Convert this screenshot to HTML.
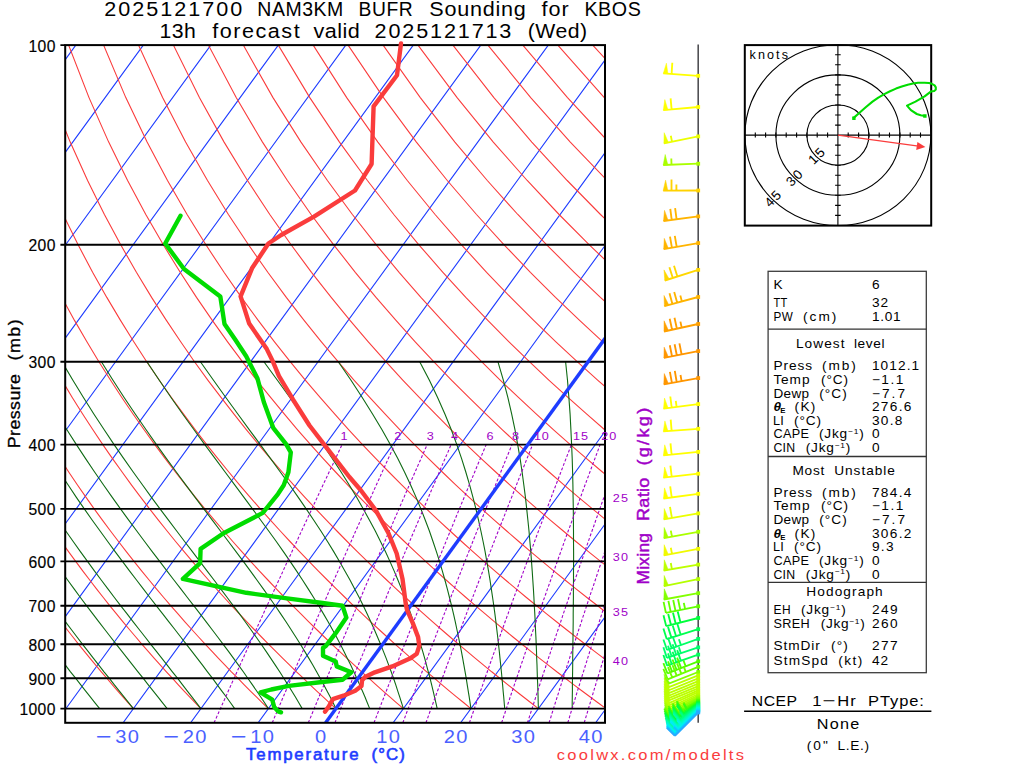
<!DOCTYPE html>
<html lang="en"><head><meta charset="utf-8"><title>2025121700 NAM3KM BUFR Sounding for KBOS</title>
<style>html,body{margin:0;padding:0;background:#fff}body{width:1024px;height:768px;overflow:hidden}svg{display:block}</style>
</head><body>
<svg width="1024" height="768" viewBox="0 0 1024 768">
<defs><clipPath id="fr"><rect x="65.2" y="45.1" width="539.8" height="677.7"/></clipPath></defs>
<rect width="1024" height="768" fill="#fff"/>
<g clip-path="url(#fr)">
<path d="M-686.9 722.8 L-194.2 45.1 M-619.4 722.8 L-126.7 45.1 M-551.9 722.8 L-59.2 45.1 M-484.4 722.8 L8.3 45.1 M-416.9 722.8 L75.8 45.1 M-349.4 722.8 L143.3 45.1 M-281.9 722.8 L210.8 45.1 M-214.4 722.8 L278.3 45.1 M-146.9 722.8 L345.8 45.1 M-79.4 722.8 L413.3 45.1 M-11.9 722.8 L480.8 45.1 M55.6 722.8 L548.3 45.1 M123.1 722.8 L615.8 45.1 M190.6 722.8 L683.3 45.1 M258.1 722.8 L750.8 45.1 M393.1 722.8 L885.8 45.1 M460.6 722.8 L953.3 45.1 M528.1 722.8 L1020.8 45.1 M595.6 722.8 L1088.3 45.1" stroke="#1e3cff" stroke-width="1.1" fill="none"/>
<path d="M133.4 708.6 L128.2 702.8 L122.9 696.8 L117.6 690.8 L112.2 684.6 L106.8 678.2 L101.3 671.8 L95.7 665.1 L90.1 658.4 L84.4 651.4 L78.7 644.3 L72.9 637 L67 629.5 L61.1 621.8 L55.1 613.9 L49 605.8 L42.8 597.5 L36.6 588.9 L30.2 580 L23.8 570.9 L17.3 561.4 L10.8 551.6 L4.1 541.5 L-2.7 531 L-9.5 520.2 L-16.5 508.9 L-23.6 497.1 L-30.8 484.8 L-38.1 472 L-45.5 458.6 L-53 444.6 L-60.6 429.8 L-68.4 414.2 L-76.3 397.7 L-84.3 380.3 L-92.5 361.7 L-100.7 341.8 L-109.1 320.4 L-117.6 297.4 L-126.2 272.3 L-134.9 244.8 L-143.6 214.5 L-152.2 180.5 L-160.6 142.1 L-168.7 97.6 L-175.9 45.1 M200.9 708.6 L195.3 702.8 L189.6 696.8 L183.9 690.8 L178.1 684.6 L172.3 678.2 L166.4 671.8 L160.4 665.1 L154.3 658.4 L148.2 651.4 L142 644.3 L135.8 637 L129.4 629.5 L123 621.8 L116.5 613.9 L109.9 605.8 L103.3 597.5 L96.5 588.9 L89.7 580 L82.7 570.9 L75.7 561.4 L68.5 551.6 L61.3 541.5 L53.9 531 L46.4 520.2 L38.8 508.9 L31.1 497.1 L23.3 484.8 L15.3 472 L7.2 458.6 L-1.1 444.6 L-9.5 429.8 L-18 414.2 L-26.7 397.7 L-35.6 380.3 L-44.6 361.7 L-53.8 341.8 L-63.2 320.4 L-72.8 297.4 L-82.5 272.3 L-92.3 244.8 L-102.2 214.5 L-112.2 180.5 L-122.2 142.1 L-131.9 97.6 L-141 45.1 M268.4 708.6 L262.4 702.8 L256.4 696.8 L250.2 690.8 L244 684.6 L237.8 678.2 L231.4 671.8 L225 665.1 L218.5 658.4 L212 651.4 L205.4 644.3 L198.6 637 L191.8 629.5 L184.9 621.8 L178 613.9 L170.9 605.8 L163.7 597.5 L156.4 588.9 L149.1 580 L141.6 570.9 L134 561.4 L126.3 551.6 L118.5 541.5 L110.5 531 L102.4 520.2 L94.2 508.9 L85.9 497.1 L77.3 484.8 L68.7 472 L59.9 458.6 L50.9 444.6 L41.7 429.8 L32.4 414.2 L22.9 397.7 L13.1 380.3 L3.2 361.7 L-6.9 341.8 L-17.3 320.4 L-27.9 297.4 L-38.7 272.3 L-49.7 244.8 L-60.9 214.5 L-72.3 180.5 L-83.7 142.1 L-95 97.6 L-106.1 45.1 M335.9 708.6 L329.5 702.8 L323.1 696.8 L316.5 690.8 L309.9 684.6 L303.3 678.2 L296.5 671.8 L289.7 665.1 L282.8 658.4 L275.8 651.4 L268.7 644.3 L261.5 637 L254.2 629.5 L246.9 621.8 L239.4 613.9 L231.8 605.8 L224.2 597.5 L216.4 588.9 L208.5 580 L200.5 570.9 L192.3 561.4 L184.1 551.6 L175.6 541.5 L167.1 531 L158.4 520.2 L149.6 508.9 L140.6 497.1 L131.4 484.8 L122.1 472 L112.5 458.6 L102.8 444.6 L92.9 429.8 L82.8 414.2 L72.4 397.7 L61.9 380.3 L51 361.7 L40 341.8 L28.6 320.4 L17 297.4 L5.1 272.3 L-7.1 244.8 L-19.6 214.5 L-32.3 180.5 L-45.2 142.1 L-58.2 97.6 L-71.1 45.1 M403.4 708.6 L396.6 702.8 L389.8 696.8 L382.9 690.8 L375.9 684.6 L368.8 678.2 L361.6 671.8 L354.3 665.1 L347 658.4 L339.5 651.4 L332 644.3 L324.4 637 L316.6 629.5 L308.8 621.8 L300.9 613.9 L292.8 605.8 L284.6 597.5 L276.3 588.9 L267.9 580 L259.3 570.9 L250.6 561.4 L241.8 551.6 L232.8 541.5 L223.7 531 L214.4 520.2 L204.9 508.9 L195.3 497.1 L185.5 484.8 L175.4 472 L165.2 458.6 L154.8 444.6 L144.1 429.8 L133.2 414.2 L122 397.7 L110.6 380.3 L98.9 361.7 L86.9 341.8 L74.5 320.4 L61.9 297.4 L48.9 272.3 L35.5 244.8 L21.8 214.5 L7.7 180.5 L-6.7 142.1 L-21.4 97.6 L-36.2 45.1 M470.9 708.6 L463.8 702.8 L456.5 696.8 L449.2 690.8 L441.8 684.6 L434.3 678.2 L426.7 671.8 L419 665.1 L411.2 658.4 L403.3 651.4 L395.3 644.3 L387.2 637 L379 629.5 L370.7 621.8 L362.3 613.9 L353.7 605.8 L345.1 597.5 L336.3 588.9 L327.3 580 L318.2 570.9 L309 561.4 L299.6 551.6 L290 541.5 L280.3 531 L270.4 520.2 L260.3 508.9 L250 497.1 L239.5 484.8 L228.8 472 L217.9 458.6 L206.7 444.6 L195.3 429.8 L183.6 414.2 L171.6 397.7 L159.3 380.3 L146.7 361.7 L133.8 341.8 L120.5 320.4 L106.8 297.4 L92.6 272.3 L78.1 244.8 L63.1 214.5 L47.6 180.5 L31.7 142.1 L15.4 97.6 L-1.3 45.1 M538.4 708.6 L530.9 702.8 L523.2 696.8 L515.5 690.8 L507.7 684.6 L499.8 678.2 L491.7 671.8 L483.6 665.1 L475.4 658.4 L467.1 651.4 L458.7 644.3 L450.1 637 L441.4 629.5 L432.7 621.8 L423.7 613.9 L414.7 605.8 L405.5 597.5 L396.2 588.9 L386.7 580 L377.1 570.9 L367.3 561.4 L357.3 551.6 L347.2 541.5 L336.9 531 L326.4 520.2 L315.7 508.9 L304.7 497.1 L293.6 484.8 L282.2 472 L270.5 458.6 L258.6 444.6 L246.5 429.8 L234 414.2 L221.2 397.7 L208 380.3 L194.5 361.7 L180.7 341.8 L166.4 320.4 L151.6 297.4 L136.4 272.3 L120.7 244.8 L104.4 214.5 L87.6 180.5 L70.2 142.1 L52.2 97.6 L33.7 45.1 M605.9 708.6 L598 702.8 L589.9 696.8 L581.8 690.8 L573.6 684.6 L565.3 678.2 L556.8 671.8 L548.3 665.1 L539.6 658.4 L530.9 651.4 L522 644.3 L513 637 L503.9 629.5 L494.6 621.8 L485.2 613.9 L475.7 605.8 L466 597.5 L456.1 588.9 L446.1 580 L436 570.9 L425.6 561.4 L415.1 551.6 L404.4 541.5 L393.5 531 L382.4 520.2 L371 508.9 L359.4 497.1 L347.6 484.8 L335.6 472 L323.2 458.6 L310.6 444.6 L297.6 429.8 L284.4 414.2 L270.8 397.7 L256.8 380.3 L242.4 361.7 L227.6 341.8 L212.3 320.4 L196.5 297.4 L180.2 272.3 L163.3 244.8 L145.8 214.5 L127.6 180.5 L108.7 142.1 L89 97.6 L68.6 45.1 M673.4 708.6 L665.1 702.8 L656.7 696.8 L648.1 690.8 L639.5 684.6 L630.7 678.2 L621.9 671.8 L612.9 665.1 L603.8 658.4 L594.6 651.4 L585.3 644.3 L575.9 637 L566.3 629.5 L556.5 621.8 L546.6 613.9 L536.6 605.8 L526.4 597.5 L516.1 588.9 L505.5 580 L494.8 570.9 L483.9 561.4 L472.9 551.6 L461.6 541.5 L450.1 531 L438.3 520.2 L426.4 508.9 L414.2 497.1 L401.7 484.8 L388.9 472 L375.9 458.6 L362.5 444.6 L348.8 429.8 L334.8 414.2 L320.3 397.7 L305.5 380.3 L290.2 361.7 L274.5 341.8 L258.2 320.4 L241.4 297.4 L224 272.3 L205.9 244.8 L187.1 214.5 L167.5 180.5 L147.1 142.1 L125.8 97.6 L103.6 45.1 M740.9 708.6 L732.2 702.8 L723.4 696.8 L714.4 690.8 L705.4 684.6 L696.2 678.2 L687 671.8 L677.6 665.1 L668.1 658.4 L658.4 651.4 L648.6 644.3 L638.7 637 L628.7 629.5 L618.5 621.8 L608.1 613.9 L597.6 605.8 L586.9 597.5 L576 588.9 L565 580 L553.7 570.9 L542.3 561.4 L530.6 551.6 L518.8 541.5 L506.7 531 L494.3 520.2 L481.7 508.9 L468.9 497.1 L455.7 484.8 L442.3 472 L428.6 458.6 L414.5 444.6 L400 429.8 L385.2 414.2 L369.9 397.7 L354.2 380.3 L338.1 361.7 L321.4 341.8 L304.1 320.4 L286.3 297.4 L267.8 272.3 L248.5 244.8 L228.4 214.5 L207.5 180.5 L185.6 142.1 L162.6 97.6 L138.5 45.1 M808.4 708.6 L799.3 702.8 L790.1 696.8 L780.8 690.8 L771.3 684.6 L761.7 678.2 L752 671.8 L742.2 665.1 L732.3 658.4 L722.2 651.4 L712 644.3 L701.6 637 L691.1 629.5 L680.4 621.8 L669.5 613.9 L658.5 605.8 L647.3 597.5 L635.9 588.9 L624.4 580 L612.6 570.9 L600.6 561.4 L588.4 551.6 L575.9 541.5 L563.3 531 L550.3 520.2 L537.1 508.9 L523.6 497.1 L509.8 484.8 L495.7 472 L481.2 458.6 L466.4 444.6 L451.2 429.8 L435.6 414.2 L419.5 397.7 L403 380.3 L385.9 361.7 L368.3 341.8 L350 320.4 L331.2 297.4 L311.5 272.3 L291.1 244.8 L269.8 214.5 L247.5 180.5 L224.1 142.1 L199.4 97.6 L173.4 45.1 M875.9 708.6 L866.4 702.8 L856.8 696.8 L847.1 690.8 L837.2 684.6 L827.2 678.2 L817.1 671.8 L806.9 665.1 L796.5 658.4 L786 651.4 L775.3 644.3 L764.5 637 L753.5 629.5 L742.3 621.8 L731 613.9 L719.5 605.8 L707.8 597.5 L695.9 588.9 L683.8 580 L671.5 570.9 L658.9 561.4 L646.1 551.6 L633.1 541.5 L619.9 531 L606.3 520.2 L592.5 508.9 L578.3 497.1 L563.9 484.8 L549.1 472 L533.9 458.6 L518.3 444.6 L502.4 429.8 L486 414.2 L469.1 397.7 L451.7 380.3 L433.7 361.7 L415.2 341.8 L396 320.4 L376 297.4 L355.3 272.3 L333.7 244.8 L311.1 214.5 L287.4 180.5 L262.5 142.1 L236.2 97.6 L208.4 45.1 M943.4 708.6 L933.5 702.8 L923.5 696.8 L913.4 690.8 L903.1 684.6 L892.7 678.2 L882.2 671.8 L871.5 665.1 L860.7 658.4 L849.7 651.4 L838.6 644.3 L827.3 637 L815.9 629.5 L804.2 621.8 L792.4 613.9 L780.4 605.8 L768.2 597.5 L755.8 588.9 L743.2 580 L730.3 570.9 L717.2 561.4 L703.9 551.6 L690.3 541.5 L676.4 531 L662.3 520.2 L647.8 508.9 L633 497.1 L617.9 484.8 L602.4 472 L586.6 458.6 L570.3 444.6 L553.6 429.8 L536.4 414.2 L518.7 397.7 L500.4 380.3 L481.6 361.7 L462.1 341.8 L441.9 320.4 L420.9 297.4 L399.1 272.3 L376.3 244.8 L352.4 214.5 L327.4 180.5 L301 142.1 L273 97.6 L243.3 45.1 M1010.9 708.6 L1000.6 702.8 L990.2 696.8 L979.7 690.8 L969 684.6 L958.2 678.2 L947.3 671.8 L936.2 665.1 L924.9 658.4 L913.5 651.4 L901.9 644.3 L890.2 637 L878.3 629.5 L866.2 621.8 L853.9 613.9 L841.4 605.8 L828.7 597.5 L815.7 588.9 L802.6 580 L789.2 570.9 L775.6 561.4 L761.7 551.6 L747.5 541.5 L733 531 L718.3 520.2 L703.2 508.9 L687.8 497.1 L672 484.8 L655.8 472 L639.2 458.6 L622.2 444.6 L604.7 429.8 L586.8 414.2 L568.2 397.7 L549.1 380.3 L529.4 361.7 L509 341.8 L487.8 320.4 L465.8 297.4 L442.9 272.3 L418.9 244.8 L393.8 214.5 L367.4 180.5 L339.5 142.1 L309.8 97.6 L278.3 45.1 M1078.4 708.6 L1067.8 702.8 L1057 696.8 L1046 690.8 L1034.9 684.6 L1023.7 678.2 L1012.4 671.8 L1000.8 665.1 L989.1 658.4 L977.3 651.4 L965.3 644.3 L953.1 637 L940.7 629.5 L928.1 621.8 L915.3 613.9 L902.3 605.8 L889.1 597.5 L875.7 588.9 L862 580 L848.1 570.9 L833.9 561.4 L819.4 551.6 L804.7 541.5 L789.6 531 L774.3 520.2 L758.5 508.9 L742.5 497.1 L726 484.8 L709.2 472 L691.9 458.6 L674.2 444.6 L655.9 429.8 L637.2 414.2 L617.8 397.7 L597.9 380.3 L577.2 361.7 L555.9 341.8 L533.7 320.4 L510.7 297.4 L486.6 272.3 L461.5 244.8 L435.1 214.5 L407.3 180.5 L377.9 142.1 L346.7 97.6 L313.2 45.1 M1145.9 708.6 L1134.9 702.8 L1123.7 696.8 L1112.3 690.8 L1100.9 684.6 L1089.2 678.2 L1077.4 671.8 L1065.5 665.1 L1053.4 658.4 L1041.1 651.4 L1028.6 644.3 L1015.9 637 L1003.1 629.5 L990 621.8 L976.8 613.9 L963.3 605.8 L949.6 597.5 L935.6 588.9 L921.4 580 L907 570.9 L892.2 561.4 L877.2 551.6 L861.9 541.5 L846.2 531 L830.2 520.2 L813.9 508.9 L797.2 497.1 L780.1 484.8 L762.6 472 L744.6 458.6 L726.1 444.6 L707.1 429.8 L687.6 414.2 L667.4 397.7 L646.6 380.3 L625.1 361.7 L602.8 341.8 L579.6 320.4 L555.5 297.4 L530.4 272.3 L504.1 244.8 L476.5 214.5 L447.3 180.5 L416.4 142.1 L383.5 97.6 L348.1 45.1 M1213.4 708.6 L1202 702.8 L1190.4 696.8 L1178.7 690.8 L1166.8 684.6 L1154.7 678.2 L1142.5 671.8 L1130.1 665.1 L1117.6 658.4 L1104.8 651.4 L1091.9 644.3 L1078.8 637 L1065.5 629.5 L1052 621.8 L1038.2 613.9 L1024.2 605.8 L1010 597.5 L995.6 588.9 L980.8 580 L965.8 570.9 L950.5 561.4 L935 551.6 L919.1 541.5 L902.8 531 L886.2 520.2 L869.3 508.9 L851.9 497.1 L834.1 484.8 L815.9 472 L797.2 458.6 L778 444.6 L758.3 429.8 L737.9 414.2 L717 397.7 L695.3 380.3 L672.9 361.7 L649.7 341.8 L625.6 320.4 L600.4 297.4 L574.2 272.3 L546.7 244.8 L517.8 214.5 L487.3 180.5 L454.9 142.1 L420.3 97.6 L383.1 45.1 M1280.9 708.6 L1269.1 702.8 L1257.1 696.8 L1245 690.8 L1232.7 684.6 L1220.2 678.2 L1207.6 671.8 L1194.8 665.1 L1181.8 658.4 L1168.6 651.4 L1155.3 644.3 L1141.7 637 L1127.9 629.5 L1113.9 621.8 L1099.7 613.9 L1085.2 605.8 L1070.5 597.5 L1055.5 588.9 L1040.2 580 L1024.7 570.9 L1008.9 561.4 L992.7 551.6 L976.2 541.5 L959.4 531 L942.2 520.2 L924.6 508.9 L906.6 497.1 L888.2 484.8 L869.3 472 L849.9 458.6 L830 444.6 L809.5 429.8 L788.3 414.2 L766.6 397.7 L744 380.3 L720.7 361.7 L696.6 341.8 L671.5 320.4 L645.3 297.4 L618 272.3 L589.3 244.8 L559.1 214.5 L527.2 180.5 L493.3 142.1 L457.1 97.6 L418 45.1 M1348.4 708.6 L1336.2 702.8 L1323.8 696.8 L1311.3 690.8 L1298.6 684.6 L1285.7 678.2 L1272.7 671.8 L1259.4 665.1 L1246 658.4 L1232.4 651.4 L1218.6 644.3 L1204.6 637 L1190.3 629.5 L1175.8 621.8 L1161.1 613.9 L1146.1 605.8 L1130.9 597.5 L1115.4 588.9 L1099.7 580 L1083.6 570.9 L1067.2 561.4 L1050.5 551.6 L1033.4 541.5 L1016 531 L998.2 520.2 L980 508.9 L961.4 497.1 L942.3 484.8 L922.7 472 L902.6 458.6 L881.9 444.6 L860.6 429.8 L838.7 414.2 L816.1 397.7 L792.8 380.3 L768.6 361.7 L743.5 341.8 L717.4 320.4 L690.2 297.4 L661.7 272.3 L631.9 244.8 L600.5 214.5 L567.2 180.5 L531.8 142.1 L493.9 97.6 L452.9 45.1 M1415.9 708.6 L1403.3 702.8 L1390.5 696.8 L1377.6 690.8 L1364.5 684.6 L1351.2 678.2 L1337.7 671.8 L1324.1 665.1 L1310.2 658.4 L1296.2 651.4 L1281.9 644.3 L1267.4 637 L1252.7 629.5 L1237.8 621.8 L1222.6 613.9 L1207.1 605.8 L1191.4 597.5 L1175.4 588.9 L1159.1 580 L1142.5 570.9 L1125.5 561.4 L1108.2 551.6 L1090.6 541.5 L1072.6 531 L1054.2 520.2 L1035.4 508.9 L1016.1 497.1 L996.3 484.8 L976 472 L955.2 458.6 L933.8 444.6 L911.8 429.8 L889.1 414.2 L865.7 397.7 L841.5 380.3 L816.4 361.7 L790.4 341.8 L763.3 320.4 L735.1 297.4 L705.5 272.3 L674.5 244.8 L641.8 214.5 L607.2 180.5 L570.3 142.1 L530.7 97.6 L487.9 45.1 M1483.4 708.6 L1470.4 702.8 L1457.3 696.8 L1443.9 690.8 L1430.4 684.6 L1416.7 678.2 L1402.8 671.8 L1388.7 665.1 L1374.4 658.4 L1359.9 651.4 L1345.2 644.3 L1330.3 637 L1315.1 629.5 L1299.7 621.8 L1284 613.9 L1268.1 605.8 L1251.8 597.5 L1235.3 588.9 L1218.5 580 L1201.3 570.9 L1183.8 561.4 L1166 551.6 L1147.8 541.5 L1129.2 531 L1110.2 520.2 L1090.7 508.9 L1070.8 497.1 L1050.4 484.8 L1029.4 472 L1007.9 458.6 L985.8 444.6 L963 429.8 L939.5 414.2 L915.3 397.7 L890.2 380.3 L864.3 361.7 L837.3 341.8 L809.2 320.4 L779.9 297.4 L749.3 272.3 L717.1 244.8 L683.1 214.5 L647.1 180.5 L608.7 142.1 L567.5 97.6 L522.8 45.1 M1550.9 708.6 L1537.5 702.8 L1524 696.8 L1510.2 690.8 L1496.3 684.6 L1482.2 678.2 L1467.9 671.8 L1453.4 665.1 L1438.7 658.4 L1423.7 651.4 L1408.6 644.3 L1393.2 637 L1377.5 629.5 L1361.6 621.8 L1345.5 613.9 L1329 605.8 L1312.3 597.5 L1295.2 588.9 L1277.9 580 L1260.2 570.9 L1242.2 561.4 L1223.8 551.6 L1205 541.5 L1185.8 531 L1166.2 520.2 L1146.1 508.9 L1125.5 497.1 L1104.4 484.8 L1082.8 472 L1060.6 458.6 L1037.7 444.6 L1014.2 429.8 L989.9 414.2 L964.9 397.7 L939 380.3 L912.1 361.7 L884.2 341.8 L855.1 320.4 L824.8 297.4 L793.1 272.3 L759.7 244.8 L724.5 214.5 L687.1 180.5 L647.2 142.1 L604.3 97.6 L557.8 45.1 M1618.4 708.6 L1604.6 702.8 L1590.7 696.8 L1576.5 690.8 L1562.2 684.6 L1547.7 678.2 L1533 671.8 L1518 665.1 L1502.9 658.4 L1487.5 651.4 L1471.9 644.3 L1456 637 L1439.9 629.5 L1423.5 621.8 L1406.9 613.9 L1390 605.8 L1372.7 597.5 L1355.2 588.9 L1337.3 580 L1319.1 570.9 L1300.5 561.4 L1281.5 551.6 L1262.2 541.5 L1242.4 531 L1222.2 520.2 L1201.4 508.9 L1180.2 497.1 L1158.5 484.8 L1136.2 472 L1113.2 458.6 L1089.7 444.6 L1065.4 429.8 L1040.3 414.2 L1014.5 397.7 L987.7 380.3 L959.9 361.7 L931.1 341.8 L901.1 320.4 L869.7 297.4 L836.8 272.3 L802.3 244.8 L765.8 214.5 L727.1 180.5 L685.7 142.1 L641.1 97.6 L592.7 45.1 M1685.9 708.6 L1671.8 702.8 L1657.4 696.8 L1642.9 690.8 L1628.1 684.6 L1613.2 678.2 L1598 671.8 L1582.7 665.1 L1567.1 658.4 L1551.3 651.4 L1535.2 644.3 L1518.9 637 L1502.3 629.5 L1485.5 621.8 L1468.3 613.9 L1450.9 605.8 L1433.2 597.5 L1415.1 588.9 L1396.7 580 L1378 570.9 L1358.8 561.4 L1339.3 551.6 L1319.4 541.5 L1299 531 L1278.1 520.2 L1256.8 508.9 L1235 497.1 L1212.5 484.8 L1189.5 472 L1165.9 458.6 L1141.6 444.6 L1116.6 429.8 L1090.7 414.2 L1064 397.7 L1036.4 380.3 L1007.8 361.7 L978 341.8 L947 320.4 L914.6 297.4 L880.6 272.3 L844.9 244.8 L807.1 214.5 L767 180.5 L724.1 142.1 L677.9 97.6 L627.6 45.1" stroke="#fa3c3c" stroke-width="1.1" fill="none"/>
<path d="M99.7 708.6 L95 702.8 L90.3 696.8 L85.5 690.8 L80.6 684.6 L75.6 678.2 L70.5 671.8 L65.4 665.1 L60.2 658.4 L54.9 651.4 L49.6 644.3 L44.1 637 L38.6 629.5 L33 621.8 L27.3 613.9 L21.5 605.8 L15.7 597.5 L9.8 588.9 L3.7 580 L-2.4 570.9 L-8.6 561.4 L-14.8 551.6 L-21.2 541.5 L-27.7 531 L-34.2 520.2 L-40.9 508.9 L-47.7 497.1 L-54.5 484.8 L-61.5 472 L-68.6 458.6 L-75.7 444.6 L-83 429.8 L-90.4 414.2 L-97.9 397.7 L-105.5 380.3 L-113.3 361.7 M133.4 708.6 L128.8 702.8 L124 696.8 L119.2 690.8 L114.2 684.6 L109.2 678.2 L104 671.8 L98.8 665.1 L93.5 658.4 L88.1 651.4 L82.6 644.3 L77 637 L71.3 629.5 L65.5 621.8 L59.7 613.9 L53.7 605.8 L47.6 597.5 L41.5 588.9 L35.2 580 L28.9 570.9 L22.4 561.4 L15.8 551.6 L9.2 541.5 L2.4 531 L-4.4 520.2 L-11.4 508.9 L-18.5 497.1 L-25.7 484.8 L-33 472 L-40.5 458.6 L-48 444.6 L-55.7 429.8 L-63.5 414.2 L-71.5 397.7 L-79.6 380.3 L-87.8 361.7 M167.2 708.6 L162.6 702.8 L157.9 696.8 L153.1 690.8 L148.1 684.6 L143.1 678.2 L138 671.8 L132.7 665.1 L127.4 658.4 L121.9 651.4 L116.3 644.3 L110.6 637 L104.8 629.5 L98.9 621.8 L92.8 613.9 L86.7 605.8 L80.4 597.5 L74.1 588.9 L67.6 580 L61 570.9 L54.3 561.4 L47.5 551.6 L40.5 541.5 L33.5 531 L26.3 520.2 L19 508.9 L11.6 497.1 L4 484.8 L-3.7 472 L-11.5 458.6 L-19.5 444.6 L-27.6 429.8 L-35.8 414.2 L-44.2 397.7 L-52.7 380.3 L-61.4 361.7 M200.9 708.6 L196.5 702.8 L191.9 696.8 L187.2 690.8 L182.4 684.6 L177.5 678.2 L172.4 671.8 L167.2 665.1 L161.9 658.4 L156.4 651.4 L150.8 644.3 L145.1 637 L139.2 629.5 L133.2 621.8 L127.1 613.9 L120.8 605.8 L114.4 597.5 L107.9 588.9 L101.2 580 L94.4 570.9 L87.5 561.4 L80.4 551.6 L73.2 541.5 L65.8 531 L58.4 520.2 L50.7 508.9 L43 497.1 L35.1 484.8 L27 472 L18.8 458.6 L10.4 444.6 L1.9 429.8 L-6.8 414.2 L-15.7 397.7 L-24.7 380.3 L-33.9 361.7 M234.7 708.6 L230.5 702.8 L226.2 696.8 L221.7 690.8 L217.1 684.6 L212.4 678.2 L207.5 671.8 L202.5 665.1 L197.3 658.4 L191.9 651.4 L186.4 644.3 L180.7 637 L174.9 629.5 L168.9 621.8 L162.7 613.9 L156.4 605.8 L149.9 597.5 L143.3 588.9 L136.5 580 L129.5 570.9 L122.4 561.4 L115.1 551.6 L107.7 541.5 L100.1 531 L92.3 520.2 L84.3 508.9 L76.2 497.1 L68 484.8 L59.5 472 L50.9 458.6 L42.1 444.6 L33.2 429.8 L24 414.2 L14.7 397.7 L5.1 380.3 L-4.6 361.7 M268.4 708.6 L264.6 702.8 L260.6 696.8 L256.5 690.8 L252.3 684.6 L247.8 678.2 L243.3 671.8 L238.5 665.1 L233.6 658.4 L228.5 651.4 L223.2 644.3 L217.7 637 L212 629.5 L206.2 621.8 L200.1 613.9 L193.9 605.8 L187.4 597.5 L180.8 588.9 L173.9 580 L166.9 570.9 L159.7 561.4 L152.2 551.6 L144.6 541.5 L136.8 531 L128.7 520.2 L120.5 508.9 L112.1 497.1 L103.4 484.8 L94.6 472 L85.6 458.6 L76.4 444.6 L66.9 429.8 L57.3 414.2 L47.4 397.7 L37.3 380.3 L27 361.7 M302.2 708.6 L298.8 702.8 L295.3 696.8 L291.6 690.8 L287.8 684.6 L283.8 678.2 L279.7 671.8 L275.3 665.1 L270.8 658.4 L266.1 651.4 L261.2 644.3 L256.1 637 L250.8 629.5 L245.2 621.8 L239.5 613.9 L233.4 605.8 L227.2 597.5 L220.7 588.9 L214 580 L207 570.9 L199.8 561.4 L192.4 551.6 L184.6 541.5 L176.7 531 L168.5 520.2 L160 508.9 L151.3 497.1 L142.4 484.8 L133.2 472 L123.8 458.6 L114.1 444.6 L104.2 429.8 L94 414.2 L83.6 397.7 L72.9 380.3 L61.9 361.7 M335.9 708.6 L333.1 702.8 L330.1 696.8 L326.9 690.8 L323.6 684.6 L320.2 678.2 L316.6 671.8 L312.8 665.1 L308.9 658.4 L304.7 651.4 L300.4 644.3 L295.8 637 L291 629.5 L286 621.8 L280.7 613.9 L275.2 605.8 L269.4 597.5 L263.3 588.9 L256.9 580 L250.3 570.9 L243.3 561.4 L236 551.6 L228.4 541.5 L220.5 531 L212.3 520.2 L203.8 508.9 L194.9 497.1 L185.8 484.8 L176.3 472 L166.5 458.6 L156.5 444.6 L146.1 429.8 L135.4 414.2 L124.3 397.7 L113 380.3 L101.4 361.7 M369.7 708.6 L367.3 702.8 L364.9 696.8 L362.3 690.8 L359.6 684.6 L356.8 678.2 L353.8 671.8 L350.7 665.1 L347.4 658.4 L344 651.4 L340.3 644.3 L336.5 637 L332.4 629.5 L328.1 621.8 L323.5 613.9 L318.7 605.8 L313.6 597.5 L308.2 588.9 L302.5 580 L296.5 570.9 L290.1 561.4 L283.4 551.6 L276.3 541.5 L268.7 531 L260.8 520.2 L252.5 508.9 L243.8 497.1 L234.7 484.8 L225.1 472 L215.2 458.6 L204.8 444.6 L194 429.8 L182.8 414.2 L171.2 397.7 L159.3 380.3 L146.9 361.7 M403.4 708.6 L401.6 702.8 L399.7 696.8 L397.7 690.8 L395.7 684.6 L393.5 678.2 L391.2 671.8 L388.7 665.1 L386.2 658.4 L383.4 651.4 L380.6 644.3 L377.5 637 L374.3 629.5 L370.8 621.8 L367.2 613.9 L363.3 605.8 L359.2 597.5 L354.7 588.9 L350 580 L344.9 570.9 L339.5 561.4 L333.7 551.6 L327.5 541.5 L320.9 531 L313.8 520.2 L306.2 508.9 L298.1 497.1 L289.5 484.8 L280.3 472 L270.6 458.6 L260.3 444.6 L249.4 429.8 L238 414.2 L226 397.7 L213.5 380.3 L200.4 361.7 M437.2 708.6 L435.9 702.8 L434.5 696.8 L433.1 690.8 L431.6 684.6 L430 678.2 L428.3 671.8 L426.5 665.1 L424.7 658.4 L422.7 651.4 L420.6 644.3 L418.4 637 L416 629.5 L413.5 621.8 L410.8 613.9 L407.9 605.8 L404.8 597.5 L401.5 588.9 L397.9 580 L394.1 570.9 L389.9 561.4 L385.4 551.6 L380.5 541.5 L375.3 531 L369.5 520.2 L363.3 508.9 L356.5 497.1 L349.1 484.8 L341.1 472 L332.4 458.6 L323 444.6 L312.8 429.8 L301.8 414.2 L290 397.7 L277.4 380.3 L263.9 361.7 M470.9 708.6 L470.1 702.8 L469.2 696.8 L468.2 690.8 L467.2 684.6 L466.2 678.2 L465.1 671.8 L463.9 665.1 L462.7 658.4 L461.4 651.4 L460 644.3 L458.5 637 L456.9 629.5 L455.3 621.8 L453.5 613.9 L451.6 605.8 L449.5 597.5 L447.3 588.9 L444.9 580 L442.3 570.9 L439.5 561.4 L436.4 551.6 L433 541.5 L429.4 531 L425.3 520.2 L420.9 508.9 L416 497.1 L410.5 484.8 L404.5 472 L397.8 458.6 L390.3 444.6 L382 429.8 L372.7 414.2 L362.4 397.7 L351 380.3 L338.3 361.7 M504.7 708.6 L504.2 702.8 L503.7 696.8 L503.1 690.8 L502.6 684.6 L502 678.2 L501.4 671.8 L500.7 665.1 L500 658.4 L499.3 651.4 L498.5 644.3 L497.7 637 L496.8 629.5 L495.9 621.8 L494.9 613.9 L493.8 605.8 L492.6 597.5 L491.3 588.9 L490 580 L488.5 570.9 L486.8 561.4 L485.1 551.6 L483.1 541.5 L480.9 531 L478.5 520.2 L475.9 508.9 L472.9 497.1 L469.6 484.8 L465.8 472 L461.6 458.6 L456.8 444.6 L451.3 429.8 L445 414.2 L437.7 397.7 L429.4 380.3 L419.7 361.7 M538.4 708.6 L538.2 702.8 L538.1 696.8 L537.9 690.8 L537.7 684.6 L537.4 678.2 L537.2 671.8 L537 665.1 L536.7 658.4 L536.5 651.4 L536.2 644.3 L535.9 637 L535.5 629.5 L535.2 621.8 L534.8 613.9 L534.3 605.8 L533.9 597.5 L533.4 588.9 L532.8 580 L532.2 570.9 L531.5 561.4 L530.8 551.6 L529.9 541.5 L529 531 L527.9 520.2 L526.7 508.9 L525.4 497.1 L523.8 484.8 L522.1 472 L520.1 458.6 L517.7 444.6 L515 429.8 L511.7 414.2 L507.9 397.7 L503.4 380.3 L497.9 361.7 M572.2 708.6 L572.2 702.8 L572.3 696.8 L572.4 690.8 L572.4 684.6 L572.5 678.2 L572.6 671.8 L572.7 665.1 L572.7 658.4 L572.8 651.4 L572.9 644.3 L573 637 L573.1 629.5 L573.2 621.8 L573.2 613.9 L573.3 605.8 L573.4 597.5 L573.4 588.9 L573.5 580 L573.5 570.9 L573.6 561.4 L573.6 551.6 L573.5 541.5 L573.5 531 L573.4 520.2 L573.3 508.9 L573.1 497.1 L572.9 484.8 L572.6 472 L572.2 458.6 L571.6 444.6 L570.9 429.8 L570.1 414.2 L568.9 397.7 L567.5 380.3 L565.6 361.7" stroke="#0f6a14" stroke-width="1.1" fill="none"/>
<path d="M214 722.8 L215.4 719.9 L216.6 717.1 L217.9 714.3 L219.1 711.5 L220.4 708.6 L221.7 705.7 L223 702.8 L224.4 699.8 L225.7 696.8 L227.1 693.8 L228.4 690.8 L229.8 687.7 L231.2 684.6 L232.6 681.4 L234.1 678.2 L235.5 675 L237 671.8 L238.5 668.5 L240 665.1 L241.5 661.8 L243.1 658.4 L244.6 654.9 L246.2 651.4 L247.8 647.9 L249.4 644.3 L251.1 640.7 L252.8 637 L254.5 633.3 L256.2 629.5 L257.9 625.7 L259.7 621.8 L261.5 617.9 L263.3 613.9 L265.1 609.9 L267 605.8 L268.9 601.7 L270.8 597.5 L272.8 593.2 L274.8 588.9 L276.8 584.5 L278.9 580 L281 575.5 L283.1 570.9 L285.2 566.2 L287.4 561.4 L289.7 556.6 L292 551.6 L294.3 546.6 L296.7 541.5 L299.1 536.3 L301.5 531 L304 525.7 L306.6 520.2 L309.2 514.6 L311.9 508.9 L314.6 503 L317.4 497.1 L320.2 491 L323.1 484.8 L326.1 478.5 L329.1 472 L332.3 465.4 L335.5 458.6 L338.7 451.7 L342.1 444.6 M272.2 722.8 L273.5 719.9 L274.6 717.1 L275.8 714.3 L277.1 711.5 L278.3 708.6 L279.5 705.7 L280.8 702.8 L282 699.8 L283.3 696.8 L284.6 693.8 L285.9 690.8 L287.2 687.7 L288.6 684.6 L289.9 681.4 L291.3 678.2 L292.7 675 L294.1 671.8 L295.5 668.5 L296.9 665.1 L298.4 661.8 L299.8 658.4 L301.3 654.9 L302.8 651.4 L304.4 647.9 L305.9 644.3 L307.5 640.7 L309.1 637 L310.7 633.3 L312.3 629.5 L314 625.7 L315.7 621.8 L317.4 617.9 L319.1 613.9 L320.9 609.9 L322.7 605.8 L324.5 601.7 L326.4 597.5 L328.2 593.2 L330.1 588.9 L332.1 584.5 L334 580 L336 575.5 L338.1 570.9 L340.1 566.2 L342.2 561.4 L344.4 556.6 L346.6 551.6 L348.8 546.6 L351.1 541.5 L353.4 536.3 L355.7 531 L358.1 525.7 L360.6 520.2 L363.1 514.6 L365.6 508.9 L368.2 503 L370.9 497.1 L373.6 491 L376.4 484.8 L379.3 478.5 L382.2 472 L385.2 465.4 L388.3 458.6 L391.4 451.7 L394.7 444.6 M308.3 722.8 L309.5 719.9 L310.7 717.1 L311.8 714.3 L313 711.5 L314.2 708.6 L315.4 705.7 L316.6 702.8 L317.8 699.8 L319 696.8 L320.3 693.8 L321.6 690.8 L322.8 687.7 L324.1 684.6 L325.4 681.4 L326.8 678.2 L328.1 675 L329.5 671.8 L330.8 668.5 L332.2 665.1 L333.6 661.8 L335.1 658.4 L336.5 654.9 L338 651.4 L339.5 647.9 L341 644.3 L342.5 640.7 L344 637 L345.6 633.3 L347.2 629.5 L348.8 625.7 L350.4 621.8 L352.1 617.9 L353.8 613.9 L355.5 609.9 L357.2 605.8 L359 601.7 L360.8 597.5 L362.6 593.2 L364.4 588.9 L366.3 584.5 L368.2 580 L370.2 575.5 L372.2 570.9 L374.2 566.2 L376.2 561.4 L378.3 556.6 L380.4 551.6 L382.6 546.6 L384.8 541.5 L387 536.3 L389.3 531 L391.7 525.7 L394 520.2 L396.5 514.6 L399 508.9 L401.5 503 L404.1 497.1 L406.7 491 L409.4 484.8 L412.2 478.5 L415.1 472 L418 465.4 L421 458.6 L424 451.7 L427.2 444.6 M334.9 722.8 L336.1 719.9 L337.2 717.1 L338.4 714.3 L339.5 711.5 L340.7 708.6 L341.8 705.7 L343 702.8 L344.2 699.8 L345.4 696.8 L346.6 693.8 L347.9 690.8 L349.1 687.7 L350.4 684.6 L351.6 681.4 L352.9 678.2 L354.2 675 L355.6 671.8 L356.9 668.5 L358.3 665.1 L359.6 661.8 L361 658.4 L362.5 654.9 L363.9 651.4 L365.3 647.9 L366.8 644.3 L368.3 640.7 L369.8 637 L371.3 633.3 L372.9 629.5 L374.5 625.7 L376 621.8 L377.7 617.9 L379.3 613.9 L381 609.9 L382.7 605.8 L384.4 601.7 L386.2 597.5 L387.9 593.2 L389.7 588.9 L391.6 584.5 L393.4 580 L395.3 575.5 L397.3 570.9 L399.2 566.2 L401.2 561.4 L403.3 556.6 L405.3 551.6 L407.5 546.6 L409.6 541.5 L411.8 536.3 L414.1 531 L416.3 525.7 L418.7 520.2 L421 514.6 L423.5 508.9 L426 503 L428.5 497.1 L431.1 491 L433.8 484.8 L436.5 478.5 L439.3 472 L442.1 465.4 L445 458.6 L448.1 451.7 L451.1 444.6 M374 722.8 L375.1 719.9 L376.2 717.1 L377.3 714.3 L378.4 711.5 L379.5 708.6 L380.6 705.7 L381.7 702.8 L382.9 699.8 L384.1 696.8 L385.2 693.8 L386.4 690.8 L387.6 687.7 L388.8 684.6 L390.1 681.4 L391.3 678.2 L392.6 675 L393.8 671.8 L395.1 668.5 L396.4 665.1 L397.8 661.8 L399.1 658.4 L400.5 654.9 L401.8 651.4 L403.2 647.9 L404.6 644.3 L406.1 640.7 L407.5 637 L409 633.3 L410.5 629.5 L412 625.7 L413.6 621.8 L415.1 617.9 L416.7 613.9 L418.3 609.9 L420 605.8 L421.6 601.7 L423.3 597.5 L425 593.2 L426.8 588.9 L428.5 584.5 L430.3 580 L432.2 575.5 L434 570.9 L435.9 566.2 L437.9 561.4 L439.8 556.6 L441.9 551.6 L443.9 546.6 L446 541.5 L448.1 536.3 L450.3 531 L452.5 525.7 L454.7 520.2 L457 514.6 L459.4 508.9 L461.8 503 L464.3 497.1 L466.8 491 L469.3 484.8 L472 478.5 L474.7 472 L477.4 465.4 L480.3 458.6 L483.2 451.7 L486.2 444.6 M402.8 722.8 L403.9 719.9 L405 717.1 L406 714.3 L407.1 711.5 L408.2 708.6 L409.3 705.7 L410.4 702.8 L411.5 699.8 L412.6 696.8 L413.7 693.8 L414.9 690.8 L416 687.7 L417.2 684.6 L418.4 681.4 L419.6 678.2 L420.9 675 L422.1 671.8 L423.3 668.5 L424.6 665.1 L425.9 661.8 L427.2 658.4 L428.5 654.9 L429.9 651.4 L431.2 647.9 L432.6 644.3 L434 640.7 L435.4 637 L436.8 633.3 L438.3 629.5 L439.8 625.7 L441.3 621.8 L442.8 617.9 L444.3 613.9 L445.9 609.9 L447.5 605.8 L449.1 601.7 L450.7 597.5 L452.4 593.2 L454.1 588.9 L455.8 584.5 L457.6 580 L459.4 575.5 L461.2 570.9 L463 566.2 L464.9 561.4 L466.8 556.6 L468.8 551.6 L470.8 546.6 L472.8 541.5 L474.9 536.3 L477 531 L479.1 525.7 L481.3 520.2 L483.6 514.6 L485.9 508.9 L488.2 503 L490.6 497.1 L493.1 491 L495.6 484.8 L498.1 478.5 L500.8 472 L503.5 465.4 L506.2 458.6 L509.1 451.7 L512 444.6 M425.9 722.8 L427 719.9 L428 717.1 L429 714.3 L430 711.5 L431.1 708.6 L432.2 705.7 L433.2 702.8 L434.3 699.8 L435.4 696.8 L436.5 693.8 L437.6 690.8 L438.8 687.7 L439.9 684.6 L441.1 681.4 L442.3 678.2 L443.5 675 L444.7 671.8 L445.9 668.5 L447.1 665.1 L448.4 661.8 L449.7 658.4 L450.9 654.9 L452.3 651.4 L453.6 647.9 L454.9 644.3 L456.3 640.7 L457.7 637 L459.1 633.3 L460.5 629.5 L461.9 625.7 L463.4 621.8 L464.9 617.9 L466.4 613.9 L467.9 609.9 L469.5 605.8 L471 601.7 L472.6 597.5 L474.3 593.2 L475.9 588.9 L477.6 584.5 L479.3 580 L481.1 575.5 L482.9 570.9 L484.7 566.2 L486.5 561.4 L488.4 556.6 L490.3 551.6 L492.2 546.6 L494.2 541.5 L496.2 536.3 L498.3 531 L500.4 525.7 L502.6 520.2 L504.8 514.6 L507 508.9 L509.3 503 L511.7 497.1 L514.1 491 L516.5 484.8 L519 478.5 L521.6 472 L524.3 465.4 L527 458.6 L529.8 451.7 L532.6 444.6 M469.4 722.8 L470.4 719.9 L471.4 717.1 L472.4 714.3 L473.4 711.5 L474.4 708.6 L475.4 705.7 L476.4 702.8 L477.4 699.8 L478.5 696.8 L479.5 693.8 L480.6 690.8 L481.7 687.7 L482.8 684.6 L483.9 681.4 L485 678.2 L486.1 675 L487.3 671.8 L488.4 668.5 L489.6 665.1 L490.8 661.8 L492 658.4 L493.2 654.9 L494.5 651.4 L495.8 647.9 L497 644.3 L498.3 640.7 L499.6 637 L501 633.3 L502.3 629.5 L503.7 625.7 L505.1 621.8 L506.5 617.9 L508 613.9 L509.4 609.9 L510.9 605.8 L512.4 601.7 L513.9 597.5 L515.5 593.2 L517.1 588.9 L518.7 584.5 L520.3 580 L522 575.5 L523.7 570.9 L525.4 566.2 L527.2 561.4 L529 556.6 L530.8 551.6 L532.7 546.6 L534.6 541.5 L536.5 536.3 L538.5 531 L540.5 525.7 L542.6 520.2 L544.7 514.6 L546.9 508.9 L549.1 503 L551.3 497.1 L553.6 491 L556 484.8 L558.4 478.5 L560.9 472 L563.4 465.4 L566 458.6 L568.7 451.7 L571.4 444.6 M501.6 722.8 L502.6 719.9 L503.5 717.1 L504.5 714.3 L505.4 711.5 L506.4 708.6 L507.3 705.7 L508.3 702.8 L509.3 699.8 L510.3 696.8 L511.3 693.8 L512.4 690.8 L513.4 687.7 L514.4 684.6 L515.5 681.4 L516.6 678.2 L517.7 675 L518.8 671.8 L519.9 668.5 L521 665.1 L522.2 661.8 L523.4 658.4 L524.5 654.9 L525.7 651.4 L527 647.9 L528.2 644.3 L529.4 640.7 L530.7 637 L532 633.3 L533.3 629.5 L534.6 625.7 L536 621.8 L537.3 617.9 L538.7 613.9 L540.1 609.9 L541.6 605.8 L543 601.7 L544.5 597.5 L546 593.2 L547.5 588.9 L549.1 584.5 L550.7 580 L552.3 575.5 L553.9 570.9 L555.6 566.2 L557.3 561.4 L559 556.6 L560.8 551.6 L562.6 546.6 L564.4 541.5 L566.3 536.3 L568.2 531 L570.2 525.7 L572.2 520.2 L574.2 514.6 L576.3 508.9 L578.4 503 L580.6 497.1 L582.8 491 L585.1 484.8 L587.5 478.5 L589.9 472 L592.3 465.4 L594.9 458.6 L597.5 451.7 L600.1 444.6 M527.4 722.8 L528.4 719.9 L529.3 717.1 L530.2 714.3 L531.1 711.5 L532 708.6 L533 705.7 L533.9 702.8 L534.9 699.8 L535.8 696.8 L536.8 693.8 L537.8 690.8 L538.8 687.7 L539.8 684.6 L540.8 681.4 L541.9 678.2 L542.9 675 L544 671.8 L545.1 668.5 L546.2 665.1 L547.3 661.8 L548.4 658.4 L549.6 654.9 L550.8 651.4 L551.9 647.9 L553.1 644.3 L554.3 640.7 L555.6 637 L556.8 633.3 L558.1 629.5 L559.4 625.7 L560.7 621.8 L562 617.9 L563.3 613.9 L564.7 609.9 L566.1 605.8 L567.5 601.7 L568.9 597.5 L570.4 593.2 L571.9 588.9 L573.4 584.5 L574.9 580 L576.5 575.5 L578.1 570.9 L579.7 566.2 L581.4 561.4 L583.1 556.6 L584.8 551.6 L586.5 546.6 L588.3 541.5 L590.1 536.3 L592 531 L593.9 525.7 L595.8 520.2 L597.8 514.6 L599.8 508.9 L601.9 503 L604 497.1 L605 494.4 M549 722.8 L550 719.9 L550.9 717.1 L551.7 714.3 L552.6 711.5 L553.5 708.6 L554.4 705.7 L555.3 702.8 L556.3 699.8 L557.2 696.8 L558.2 693.8 L559.1 690.8 L560.1 687.7 L561.1 684.6 L562.1 681.4 L563.1 678.2 L564.1 675 L565.2 671.8 L566.2 668.5 L567.3 665.1 L568.4 661.8 L569.5 658.4 L570.6 654.9 L571.7 651.4 L572.9 647.9 L574 644.3 L575.2 640.7 L576.4 637 L577.6 633.3 L578.8 629.5 L580.1 625.7 L581.4 621.8 L582.6 617.9 L584 613.9 L585.3 609.9 L586.6 605.8 L588 601.7 L589.4 597.5 L590.8 593.2 L592.3 588.9 L593.8 584.5 L595.3 580 L596.8 575.5 L598.3 570.9 L599.9 566.2 L601.5 561.4 L603.2 556.6 L604.8 551.6 L605 551.2 M567.7 722.8 L568.7 719.9 L569.5 717.1 L570.3 714.3 L571.2 711.5 L572.1 708.6 L573 705.7 L573.9 702.8 L574.8 699.8 L575.7 696.8 L576.6 693.8 L577.5 690.8 L578.5 687.7 L579.5 684.6 L580.4 681.4 L581.4 678.2 L582.4 675 L583.4 671.8 L584.5 668.5 L585.5 665.1 L586.6 661.8 L587.6 658.4 L588.7 654.9 L589.8 651.4 L590.9 647.9 L592.1 644.3 L593.2 640.7 L594.4 637 L595.6 633.3 L596.8 629.5 L598 625.7 L599.2 621.8 L600.5 617.9 L601.8 613.9 L603.1 609.9 L604.4 605.8 L605 603.9 M584.2 722.8 L585.1 719.9 L585.9 717.1 L586.8 714.3 L587.6 711.5 L588.5 708.6 L589.3 705.7 L590.2 702.8 L591.1 699.8 L592 696.8 L592.9 693.8 L593.8 690.8 L594.7 687.7 L595.7 684.6 L596.6 681.4 L597.6 678.2 L598.6 675 L599.6 671.8 L600.6 668.5 L601.6 665.1 L602.6 661.8 L603.7 658.4 L604.7 654.9 L605 654" stroke="#a000c8" stroke-width="1.1" stroke-dasharray="2.9 1.9" fill="none"/>
<path d="M65.2 244.8 H605 M65.2 361.7 H605 M65.2 444.6 H605 M65.2 508.9 H605 M65.2 561.4 H605 M65.2 605.8 H605 M65.2 644.3 H605 M65.2 678.2 H605 M65.2 708.6 H605" stroke="#000" stroke-width="1.9" fill="none"/>
<path d="M325.6 722.8 L818.3 45.1" stroke="#1e3cff" stroke-width="3.4" fill="none"/>
</g>
<rect x="65.2" y="45.1" width="539.8" height="677.7" fill="none" stroke="#000" stroke-width="2"/>
<path d="M60.4 45.1 H65.2 M60.4 244.8 H65.2 M60.4 361.7 H65.2 M60.4 444.6 H65.2 M60.4 508.9 H65.2 M60.4 561.4 H65.2 M60.4 605.8 H65.2 M60.4 644.3 H65.2 M60.4 678.2 H65.2 M60.4 708.6 H65.2" stroke="#000" stroke-width="1.9" fill="none"/>
<path d="M401 43.5 L397 75.2 L373.6 106.4 L371.6 164 L355 190.5 L314 216.7 L281.2 235 L268.4 243.5 L252 268.3 L240.6 296.4 L249.2 323.6 L266.8 349.1 L272.6 360.9 L279 376.2 L293.1 399.7 L309.5 425.5 L324.8 445.4 L349.4 477 L360.6 490 L375.8 510.3 L388.5 533.2 L396.7 553.5 L402.5 578.9 L405.8 604.3 L407 609.8 L412.9 623.4 L418.1 637.1 L419.3 645.9 L416.8 653.7 L409.9 658.6 L392.3 666.4 L374.8 672.3 L365 677.1 L362.1 680.1 L361.5 685.9 L355.2 690.8 L343.5 695.7 L332.8 699.2 L328.9 706.4 L325 711.7" stroke="#fa3c3c" stroke-width="4.4" fill="none" stroke-linejoin="round" stroke-linecap="round"/>
<path d="M180.5 215.8 L165.2 243.5 L184 269 L220.3 296.4 L224.5 324 L235.5 340 L246.2 356.3 L257.5 378.6 L263.8 402 L273.2 427.8 L286.1 444.2 L290.8 452.4 L288.4 472.3 L283.7 485.2 L278.1 493.8 L262.8 512.9 L223.5 533.2 L200.6 548.9 L200.1 563.1 L182.9 578.9 L246.3 592.8 L287 598.4 L322.5 603 L342.5 605.8 L346.4 617.6 L335.7 633.2 L325.9 645.9 L323 647.9 L323 655.7 L335.7 661.5 L336.7 666.4 L351.3 672.3 L342.5 679.7 L322 682 L288.8 685.9 L271.3 689.5 L260.5 692.4 L272.2 699.6 L274.2 707 L278.1 711.3 L281 712.3" stroke="#00dc00" stroke-width="4.4" fill="none" stroke-linejoin="round" stroke-linecap="round"/>
<g font-family="'Liberation Sans', sans-serif" fill="#000">
<text transform="translate(104.2 16) scale(1.12 1)" font-size="19.3" textLength="123.3" lengthAdjust="spacing">2025121700</text>
<text transform="translate(257.3 16) scale(1.01 1)" font-size="19.3" textLength="85.13" lengthAdjust="spacing">NAM3KM</text>
<text transform="translate(358.5 16) scale(1 1)" font-size="19.3" textLength="54.16" lengthAdjust="spacing">BUFR</text>
<text transform="translate(429.3 16) scale(1.12 1)" font-size="19.3" textLength="86.25" lengthAdjust="spacing">Sounding</text>
<text transform="translate(541.4 16) scale(1.12 1)" font-size="19.3" textLength="24.46" lengthAdjust="spacing">for</text>
<text transform="translate(584.4 16) scale(1.02 1)" font-size="19.3" textLength="55.29" lengthAdjust="spacing">KBOS</text>
<text transform="translate(159.4 38.3) scale(1.1 1)" font-size="19.3" textLength="33.2" lengthAdjust="spacing">13h</text>
<text transform="translate(212.2 38.3) scale(1.12 1)" font-size="19.3" textLength="78.12" lengthAdjust="spacing">forecast</text>
<text transform="translate(313.4 38.3) scale(1.12 1)" font-size="19.3" textLength="41.52" lengthAdjust="spacing">valid</text>
<text transform="translate(374.6 38.3) scale(1.12 1)" font-size="19.3" textLength="122.14" lengthAdjust="spacing">2025121713</text>
<text transform="translate(527.8 38.3) scale(1.1 1)" font-size="19.3" textLength="53.8" lengthAdjust="spacing">(Wed)</text>
<text transform="translate(28.4 51.6) scale(0.97 1)" font-size="16.2" textLength="27.87" lengthAdjust="spacing" stroke="#000" stroke-width="0.15">100</text>
<text transform="translate(28.4 251.33) scale(0.97 1)" font-size="16.2" textLength="27.87" lengthAdjust="spacing" stroke="#000" stroke-width="0.15">200</text>
<text transform="translate(28.4 368.17) scale(0.97 1)" font-size="16.2" textLength="27.87" lengthAdjust="spacing" stroke="#000" stroke-width="0.15">300</text>
<text transform="translate(28.4 451.07) scale(0.97 1)" font-size="16.2" textLength="27.87" lengthAdjust="spacing" stroke="#000" stroke-width="0.15">400</text>
<text transform="translate(28.4 515.37) scale(0.97 1)" font-size="16.2" textLength="27.87" lengthAdjust="spacing" stroke="#000" stroke-width="0.15">500</text>
<text transform="translate(28.4 567.9) scale(0.97 1)" font-size="16.2" textLength="27.87" lengthAdjust="spacing" stroke="#000" stroke-width="0.15">600</text>
<text transform="translate(28.4 612.32) scale(0.97 1)" font-size="16.2" textLength="27.87" lengthAdjust="spacing" stroke="#000" stroke-width="0.15">700</text>
<text transform="translate(28.4 650.8) scale(0.97 1)" font-size="16.2" textLength="27.87" lengthAdjust="spacing" stroke="#000" stroke-width="0.15">800</text>
<text transform="translate(28.4 684.74) scale(0.97 1)" font-size="16.2" textLength="27.87" lengthAdjust="spacing" stroke="#000" stroke-width="0.15">900</text>
<text transform="translate(19.4 715.1) scale(0.97 1)" font-size="16.2" textLength="37.15" lengthAdjust="spacing" stroke="#000" stroke-width="0.15">1000</text>
<text transform="translate(20.3 448.2) rotate(-90) scale(1.05 1)" font-size="17" textLength="70.67" lengthAdjust="spacing" stroke="#000" stroke-width="0.3">Pressure</text>
<text transform="translate(20.3 360.4) rotate(-90) scale(1.05 1)" font-size="17" textLength="39.05" lengthAdjust="spacing" stroke="#000" stroke-width="0.3">(mb)</text>
<text transform="translate(95.8 743.2) scale(1.45 1)" font-size="18.6" fill="#4a60ff">−</text>
<text transform="translate(115.2 743.2) scale(1.08 1)" font-size="18.6" textLength="21.94" lengthAdjust="spacing" fill="#4a60ff">30</text>
<text transform="translate(163.3 743.2) scale(1.45 1)" font-size="18.6" fill="#4a60ff">−</text>
<text transform="translate(182.7 743.2) scale(1.08 1)" font-size="18.6" textLength="21.94" lengthAdjust="spacing" fill="#4a60ff">20</text>
<text transform="translate(230.8 743.2) scale(1.45 1)" font-size="18.6" fill="#4a60ff">−</text>
<text transform="translate(250.2 743.2) scale(1.08 1)" font-size="18.6" textLength="21.94" lengthAdjust="spacing" fill="#4a60ff">10</text>
<text transform="translate(315.05 743.2) scale(1.08 1)" font-size="18.6" fill="#4a60ff">0</text>
<text transform="translate(376.15 743.2) scale(1.08 1)" font-size="18.6" textLength="21.94" lengthAdjust="spacing" fill="#4a60ff">10</text>
<text transform="translate(443.65 743.2) scale(1.08 1)" font-size="18.6" textLength="21.94" lengthAdjust="spacing" fill="#4a60ff">20</text>
<text transform="translate(511.15 743.2) scale(1.08 1)" font-size="18.6" textLength="21.94" lengthAdjust="spacing" fill="#4a60ff">30</text>
<text transform="translate(578.65 743.2) scale(1.08 1)" font-size="18.6" textLength="21.94" lengthAdjust="spacing" fill="#4a60ff">40</text>
<text transform="translate(246 760.4) scale(1.05 1)" font-size="16" textLength="107.14" lengthAdjust="spacing" fill="#1e3cff" stroke="#1e3cff" stroke-width="0.6">Temperature</text>
<text transform="translate(371.5 760.4) scale(1.05 1)" font-size="16" textLength="31.71" lengthAdjust="spacing" fill="#1e3cff" stroke="#1e3cff" stroke-width="0.6">(°C)</text>
<text transform="translate(556.8 759.6) scale(1.1 1)" font-size="15" textLength="170.18" lengthAdjust="spacing" fill="#fa3c3c">coolwx.com/modelts</text>
<text transform="translate(340.4 439.8) scale(1.1 1)" font-size="11.5" fill="#a000c8">1</text>
<text transform="translate(394.3 439.8) scale(1.1 1)" font-size="11.5" fill="#a000c8">2</text>
<text transform="translate(426.7 439.8) scale(1.1 1)" font-size="11.5" fill="#a000c8">3</text>
<text transform="translate(450.9 439.8) scale(1.1 1)" font-size="11.5" fill="#a000c8">4</text>
<text transform="translate(486.5 439.8) scale(1.1 1)" font-size="11.5" fill="#a000c8">6</text>
<text transform="translate(511.9 439.8) scale(1.1 1)" font-size="11.5" fill="#a000c8">8</text>
<text transform="translate(533.9 439.8) scale(1.1 1)" font-size="11.5" textLength="13.64" lengthAdjust="spacing" fill="#a000c8">10</text>
<text transform="translate(573 439.8) scale(1.1 1)" font-size="11.5" textLength="13.64" lengthAdjust="spacing" fill="#a000c8">15</text>
<text transform="translate(601.2 439.8) scale(1.1 1)" font-size="11.5" textLength="13.64" lengthAdjust="spacing" fill="#a000c8">20</text>
<text transform="translate(612.8 501.6) scale(1.1 1)" font-size="11.5" textLength="13.91" lengthAdjust="spacing" fill="#a000c8">25</text>
<text transform="translate(612.8 561.4) scale(1.1 1)" font-size="11.5" textLength="13.91" lengthAdjust="spacing" fill="#a000c8">30</text>
<text transform="translate(612.8 615.7) scale(1.1 1)" font-size="11.5" textLength="13.91" lengthAdjust="spacing" fill="#a000c8">35</text>
<text transform="translate(612.8 664.9) scale(1.1 1)" font-size="11.5" textLength="13.91" lengthAdjust="spacing" fill="#a000c8">40</text>
</g>
<g font-family="'Liberation Sans', sans-serif" fill="#a000c8">
<text transform="translate(648.8 584.4) rotate(-90) scale(1 1)" font-size="17.2" textLength="51.24" lengthAdjust="spacing" fill="#a000c8" stroke="#a000c8" stroke-width="0.45">Mixing</text>
<text transform="translate(648.8 521.1) rotate(-90) scale(1.05 1)" font-size="17.2" textLength="41.43" lengthAdjust="spacing" fill="#a000c8" stroke="#a000c8" stroke-width="0.45">Ratio</text>
<text transform="translate(648.8 465.6) rotate(-90) scale(1.05 1)" font-size="17.2" textLength="55.05" lengthAdjust="spacing" fill="#a000c8" stroke="#a000c8" stroke-width="0.45">(g/kg)</text>
</g>
<g>
<path d="M698.2 44.6 V722.8" stroke="#505054" stroke-width="1.6" fill="none"/>
<path d="M698.2 75.8 L663.3 73.4 M671.6 74 L672.3 62.8" stroke="#ffff00" stroke-width="1.85" fill="none"/>
<path d="M663.3 73.4 L667.9 73.7 L666.4 63.2 Z" fill="#ffff00" stroke="#ffff00" stroke-width="0.5"/>
<rect x="696.3" y="73.9" width="3.8" height="3.8" fill="#ffff00"/>
<path d="M698.2 107 L663.3 110.2 M671.6 109.4 L670.6 98.3" stroke="#ffff00" stroke-width="1.85" fill="none"/>
<path d="M663.3 110.2 L667.9 109.8 L664.8 99.6 Z" fill="#ffff00" stroke="#ffff00" stroke-width="0.5"/>
<rect x="696.3" y="105.1" width="3.8" height="3.8" fill="#ffff00"/>
<path d="M698.2 136.4 L663.9 143.4 M672 141.7 L670.8 135.7" stroke="#ebff00" stroke-width="1.85" fill="none"/>
<path d="M663.9 143.4 L668.4 142.5 L664.2 132.7 Z" fill="#ebff00" stroke="#ebff00" stroke-width="0.5"/>
<rect x="696.3" y="134.5" width="3.8" height="3.8" fill="#ebff00"/>
<path d="M698.2 163.7 L663.2 165 M671.5 164.7 L671.3 158.5" stroke="#aaff00" stroke-width="1.85" fill="none"/>
<path d="M663.2 165 L667.8 164.8 L665.2 154.5 Z" fill="#aaff00" stroke="#aaff00" stroke-width="0.5"/>
<rect x="696.3" y="161.8" width="3.8" height="3.8" fill="#aaff00"/>
<path d="M698.2 190.5 L663.2 190.6 M671.5 190.6 L671.5 179.4 M676.4 190.6 L676.4 184.4" stroke="#ffd200" stroke-width="1.85" fill="none"/>
<path d="M663.2 190.6 L667.8 190.6 L665.6 180.2 Z" fill="#ffd200" stroke="#ffd200" stroke-width="0.5"/>
<rect x="696.3" y="188.6" width="3.8" height="3.8" fill="#ffd200"/>
<path d="M698.2 216.4 L663.5 221 M671.7 219.9 L670.3 208.8 M676.6 219.3 L675.1 208.2" stroke="#ffb400" stroke-width="1.85" fill="none"/>
<path d="M663.5 221 L668.1 220.4 L664.5 210.4 Z" fill="#ffb400" stroke="#ffb400" stroke-width="0.5"/>
<rect x="696.3" y="214.5" width="3.8" height="3.8" fill="#ffb400"/>
<path d="M698.2 243.1 L663.7 249.1 M671.9 247.7 L670 236.6 M676.7 246.8 L674.8 235.8" stroke="#ffb400" stroke-width="1.85" fill="none"/>
<path d="M663.7 249.1 L668.3 248.3 L664.3 238.4 Z" fill="#ffb400" stroke="#ffb400" stroke-width="0.5"/>
<rect x="696.3" y="241.2" width="3.8" height="3.8" fill="#ffb400"/>
<path d="M698.2 269.9 L664.8 280.5 M672.8 278 L669.4 267.3 M677.4 276.5 L674 265.8" stroke="#ffd700" stroke-width="1.85" fill="none"/>
<path d="M664.8 280.5 L669.2 279.1 L664 269.9 Z" fill="#ffd700" stroke="#ffd700" stroke-width="0.5"/>
<rect x="696.3" y="268" width="3.8" height="3.8" fill="#ffd700"/>
<path d="M698.2 297 L664.4 306.2 M672.4 304 L669.5 293.2 M677.2 302.7 L674.2 291.9 M681.9 301.4 L680.3 295.5" stroke="#ffb400" stroke-width="1.85" fill="none"/>
<path d="M664.4 306.2 L668.9 305 L664 295.5 Z" fill="#ffb400" stroke="#ffb400" stroke-width="0.5"/>
<rect x="696.3" y="295.1" width="3.8" height="3.8" fill="#ffb400"/>
<path d="M698.2 324 L664 331.5 M672.1 329.7 L669.7 318.8 M676.9 328.7 L674.5 317.7 M681.7 327.6 L680.4 321.6" stroke="#ffa000" stroke-width="1.85" fill="none"/>
<path d="M664 331.5 L668.5 330.5 L664.1 320.8 Z" fill="#ffa000" stroke="#ffa000" stroke-width="0.5"/>
<rect x="696.3" y="322.1" width="3.8" height="3.8" fill="#ffa000"/>
<path d="M698.2 351.1 L663.9 357.9 M672 356.3 L669.8 345.3 M676.8 355.3 L674.6 344.3 M681.6 354.4 L679.4 343.4" stroke="#ff9600" stroke-width="1.85" fill="none"/>
<path d="M663.9 357.9 L668.4 357 L664.2 347.2 Z" fill="#ff9600" stroke="#ff9600" stroke-width="0.5"/>
<rect x="696.3" y="349.2" width="3.8" height="3.8" fill="#ff9600"/>
<path d="M698.2 378.1 L663.8 384.3 M671.9 382.8 L669.9 371.8 M676.7 382 L674.8 370.9 M681.6 381.1 L680.5 375" stroke="#ff9600" stroke-width="1.85" fill="none"/>
<path d="M663.8 384.3 L668.3 383.5 L664.3 373.6 Z" fill="#ff9600" stroke="#ff9600" stroke-width="0.5"/>
<rect x="696.3" y="376.2" width="3.8" height="3.8" fill="#ff9600"/>
<path d="M698.2 404.1 L663.5 408.7 M671.7 407.6 L670.3 396.5 M676.6 407 L675.8 400.8" stroke="#ffff00" stroke-width="1.85" fill="none"/>
<path d="M663.5 408.7 L668.1 408.1 L664.5 398.1 Z" fill="#ffff00" stroke="#ffff00" stroke-width="0.5"/>
<rect x="696.3" y="402.2" width="3.8" height="3.8" fill="#ffff00"/>
<path d="M698.2 428.8 L663.3 431.4 M671.6 430.8 L670.7 419.6" stroke="#ffff00" stroke-width="1.85" fill="none"/>
<path d="M663.3 431.4 L667.9 431.1 L664.9 420.9 Z" fill="#ffff00" stroke="#ffff00" stroke-width="0.5"/>
<rect x="696.3" y="426.9" width="3.8" height="3.8" fill="#ffff00"/>
<path d="M698.2 451.9 L663.4 455.4 M671.6 454.6 L670.5 443.4" stroke="#ffff00" stroke-width="1.85" fill="none"/>
<path d="M663.4 455.4 L668 454.9 L664.7 444.8 Z" fill="#ffff00" stroke="#ffff00" stroke-width="0.5"/>
<rect x="696.3" y="450" width="3.8" height="3.8" fill="#ffff00"/>
<path d="M698.2 473.7 L663.4 477.7 M671.7 476.8 L670.4 465.6" stroke="#ffff00" stroke-width="1.85" fill="none"/>
<path d="M663.4 477.7 L668 477.2 L664.6 467.1 Z" fill="#ffff00" stroke="#ffff00" stroke-width="0.5"/>
<rect x="696.3" y="471.8" width="3.8" height="3.8" fill="#ffff00"/>
<path d="M698.2 493.8 L663.5 498.5 M671.7 497.4 L670.2 486.3" stroke="#ffff00" stroke-width="1.85" fill="none"/>
<path d="M663.5 498.5 L668.1 497.9 L664.5 487.9 Z" fill="#ffff00" stroke="#ffff00" stroke-width="0.5"/>
<rect x="696.3" y="491.9" width="3.8" height="3.8" fill="#ffff00"/>
<path d="M698.2 513.4 L663.7 519.3 M671.9 517.9 L670 506.9" stroke="#ebff00" stroke-width="1.85" fill="none"/>
<path d="M663.7 519.3 L668.2 518.5 L664.3 508.6 Z" fill="#ebff00" stroke="#ebff00" stroke-width="0.5"/>
<rect x="696.3" y="511.5" width="3.8" height="3.8" fill="#ebff00"/>
<path d="M698.2 531.8 L663.8 538.2 M672 536.7 L670.8 530.6" stroke="#aaff00" stroke-width="1.85" fill="none"/>
<path d="M663.8 538.2 L668.3 537.4 L664.2 527.5 Z" fill="#aaff00" stroke="#aaff00" stroke-width="0.5"/>
<rect x="696.3" y="529.9" width="3.8" height="3.8" fill="#aaff00"/>
<path d="M698.2 548.9 L663.8 555.4 M672 553.9 L670.8 547.8" stroke="#f0fa00" stroke-width="1.85" fill="none"/>
<path d="M663.8 555.4 L668.3 554.5 L664.2 544.7 Z" fill="#f0fa00" stroke="#f0fa00" stroke-width="0.5"/>
<rect x="696.3" y="547" width="3.8" height="3.8" fill="#f0fa00"/>
<path d="M698.2 564.6 L663.7 570.5 M671.9 569.1 L670.8 563" stroke="#beff00" stroke-width="1.85" fill="none"/>
<path d="M663.7 570.5 L668.2 569.7 L664.3 559.8 Z" fill="#beff00" stroke="#beff00" stroke-width="0.5"/>
<rect x="696.3" y="562.7" width="3.8" height="3.8" fill="#beff00"/>
<path d="M698.2 579.1 L663.9 586.2" stroke="#b4ff00" stroke-width="1.85" fill="none"/>
<path d="M663.9 586.2 L668.4 585.3 L664.2 575.5 Z" fill="#b4ff00" stroke="#b4ff00" stroke-width="0.5"/>
<rect x="696.3" y="577.2" width="3.8" height="3.8" fill="#b4ff00"/>
<path d="M698.2 593.2 L663.8 599.5" stroke="#82ff00" stroke-width="1.85" fill="none"/>
<path d="M663.8 599.5 L668.3 598.7 L664.3 588.8 Z" fill="#82ff00" stroke="#82ff00" stroke-width="0.5"/>
<rect x="696.3" y="591.3" width="3.8" height="3.8" fill="#82ff00"/>
<path d="M698.2 606.3 L665.9 612.9 M665.9 612.9 L663.6 601.9 M670.7 611.9 L668.4 600.9 M675.5 610.9 L673.2 600 M680.3 610 L678 599 M685.1 609 L683.8 602.9" stroke="#64ff00" stroke-width="1.85" fill="none"/>
<rect x="696.3" y="604.4" width="3.8" height="3.8" fill="#64ff00"/>
<path d="M698.2 618 L666.2 626.1 M666.2 626.1 L663.5 615.2 M671 624.9 L668.2 614 M675.7 623.7 L673 612.8 M680.5 622.5 L677.7 611.6" stroke="#00ff3c" stroke-width="1.85" fill="none"/>
<rect x="696.3" y="616.1" width="3.8" height="3.8" fill="#00ff3c"/>
<path d="M698.2 629.2 L666.7 639.1 M666.7 639.1 L663.4 628.4 M671.4 637.6 L668 626.9 M676.1 636.2 L672.7 625.5 M680.7 634.7 L677.4 624" stroke="#00ff50" stroke-width="1.85" fill="none"/>
<rect x="696.3" y="627.3" width="3.8" height="3.8" fill="#00ff50"/>
<path d="M698.2 638.9 L667.1 650 M667.1 650 L663.4 639.5 M671.7 648.4 L668 637.8 M676.4 646.7 L672.6 636.2 M681 645.1 L678.9 639.2" stroke="#00ff64" stroke-width="1.85" fill="none"/>
<rect x="696.3" y="637" width="3.8" height="3.8" fill="#00ff64"/>
<path d="M698.2 647.4 L666.9 657.9 M666.9 657.9 L663.4 647.3 M671.6 656.3 L668 645.7 M676.2 654.8 L672.6 644.2 M680.9 653.2 L678.9 647.3" stroke="#00ff6e" stroke-width="1.85" fill="none"/>
<rect x="696.3" y="645.5" width="3.8" height="3.8" fill="#00ff6e"/>
<path d="M698.2 654.6 L667.1 665.6 M667.1 665.6 L663.4 655 M671.7 664 L668 653.4 M676.3 662.3 L672.6 651.8 M680.9 660.7 L677.2 650.1" stroke="#00ff5a" stroke-width="1.85" fill="none"/>
<rect x="696.3" y="652.7" width="3.8" height="3.8" fill="#00ff5a"/>
<path d="M698.2 661.3 L667.5 673.5 M667.5 673.5 L663.4 663.1 M672.1 671.7 L668 661.3 M676.6 669.9 L672.5 659.5 M681.2 668.1 L677.1 657.7 M685.7 666.3 L683.5 660.5" stroke="#50ff00" stroke-width="1.85" fill="none"/>
<rect x="696.3" y="659.4" width="3.8" height="3.8" fill="#50ff00"/>
<path d="M698.2 666.8 L667.7 679.3 M667.7 679.3 L663.4 668.9 M672.2 677.4 L668 667.1 M676.7 675.6 L672.5 665.2 M681.3 673.7 L677 663.4 M685.8 671.9 L683.5 666.1" stroke="#6eff00" stroke-width="1.85" fill="none"/>
<rect x="696.3" y="664.9" width="3.8" height="3.8" fill="#6eff00"/>
<path d="M698.2 672 L665.6 684.8" stroke="#82ff00" stroke-width="1.85" fill="none"/>
<path d="M665.6 684.8 L669.9 683.1 L664.1 674.2 Z" fill="#82ff00" stroke="#82ff00" stroke-width="0.5"/>
<rect x="696.3" y="670.1" width="3.8" height="3.8" fill="#82ff00"/>
<path d="M698.2 675.3 L665.8 688.4" stroke="#baff00" stroke-width="1.85" fill="none"/>
<path d="M665.8 688.4 L670 686.7 L664.1 677.9 Z" fill="#baff00" stroke="#baff00" stroke-width="0.5"/>
<rect x="696.3" y="673.4" width="3.8" height="3.8" fill="#baff00"/>
<path d="M698.2 678.3 L665.8 691.5" stroke="#bbff00" stroke-width="1.85" fill="none"/>
<path d="M665.8 691.5 L670 689.8 L664.1 681 Z" fill="#bbff00" stroke="#bbff00" stroke-width="0.5"/>
<rect x="696.3" y="676.4" width="3.8" height="3.8" fill="#bbff00"/>
<path d="M698.2 681.1 L665.8 694.3" stroke="#bbff00" stroke-width="1.85" fill="none"/>
<path d="M665.8 694.3 L670.1 692.6 L664.1 683.8 Z" fill="#bbff00" stroke="#bbff00" stroke-width="0.5"/>
<rect x="696.3" y="679.2" width="3.8" height="3.8" fill="#bbff00"/>
<path d="M698.2 683.7 L665.8 697" stroke="#bcff00" stroke-width="1.85" fill="none"/>
<path d="M665.8 697 L670.1 695.2 L664.1 686.5 Z" fill="#bcff00" stroke="#bcff00" stroke-width="0.5"/>
<rect x="696.3" y="681.8" width="3.8" height="3.8" fill="#bcff00"/>
<path d="M698.2 686.1 L665.8 699.4" stroke="#bcff00" stroke-width="1.85" fill="none"/>
<path d="M665.8 699.4 L670.1 697.7 L664.1 688.9 Z" fill="#bcff00" stroke="#bcff00" stroke-width="0.5"/>
<rect x="696.3" y="684.2" width="3.8" height="3.8" fill="#bcff00"/>
<path d="M698.2 688.3 L665.9 701.7" stroke="#bdff00" stroke-width="1.85" fill="none"/>
<path d="M665.9 701.7 L670.1 700 L664.1 691.2 Z" fill="#bdff00" stroke="#bdff00" stroke-width="0.5"/>
<rect x="696.3" y="686.4" width="3.8" height="3.8" fill="#bdff00"/>
<path d="M698.2 690.3 L666.1 704.3" stroke="#bdff00" stroke-width="1.85" fill="none"/>
<path d="M666.1 704.3 L670.3 702.4 L664.2 693.8 Z" fill="#bdff00" stroke="#bdff00" stroke-width="0.5"/>
<rect x="696.3" y="688.4" width="3.8" height="3.8" fill="#bdff00"/>
<path d="M698.2 692.2 L666.3 706.6" stroke="#beff00" stroke-width="1.85" fill="none"/>
<path d="M666.3 706.6 L670.5 704.7 L664.2 696.2 Z" fill="#beff00" stroke="#beff00" stroke-width="0.5"/>
<rect x="696.3" y="690.3" width="3.8" height="3.8" fill="#beff00"/>
<path d="M698.2 694 L666.5 708.8" stroke="#beff00" stroke-width="1.85" fill="none"/>
<path d="M666.5 708.8 L670.7 706.8 L664.3 698.4 Z" fill="#beff00" stroke="#beff00" stroke-width="0.5"/>
<rect x="696.3" y="692.1" width="3.8" height="3.8" fill="#beff00"/>
<path d="M698.2 695.6 L666.7 710.8" stroke="#b1ff00" stroke-width="1.85" fill="none"/>
<path d="M666.7 710.8 L670.8 708.8 L664.3 700.4 Z" fill="#b1ff00" stroke="#b1ff00" stroke-width="0.5"/>
<rect x="696.3" y="693.7" width="3.8" height="3.8" fill="#b1ff00"/>
<path d="M698.2 697.1 L667 713" stroke="#a4ff00" stroke-width="1.85" fill="none"/>
<path d="M667 713 L671.1 710.9 L664.4 702.6 Z" fill="#a4ff00" stroke="#a4ff00" stroke-width="0.5"/>
<rect x="696.3" y="695.2" width="3.8" height="3.8" fill="#a4ff00"/>
<path d="M698.2 698.4 L667.4 715.1" stroke="#8eff00" stroke-width="1.85" fill="none"/>
<path d="M667.4 715.1 L671.5 712.9 L664.6 704.8 Z" fill="#8eff00" stroke="#8eff00" stroke-width="0.5"/>
<rect x="696.3" y="696.5" width="3.8" height="3.8" fill="#8eff00"/>
<path d="M698.2 699.7 L667.8 717.1" stroke="#77ff00" stroke-width="1.85" fill="none"/>
<path d="M667.8 717.1 L671.8 714.8 L664.7 706.9 Z" fill="#77ff00" stroke="#77ff00" stroke-width="0.5"/>
<rect x="696.3" y="697.8" width="3.8" height="3.8" fill="#77ff00"/>
<path d="M698.2 700.9 L670 718.1 M670 718.1 L664.2 708.5 M674.2 715.5 L668.4 706 M678.4 713 L672.6 703.4 M682.6 710.4 L676.7 700.9 M686.8 707.9 L683.5 702.6" stroke="#56ff00" stroke-width="1.85" fill="none"/>
<rect x="696.3" y="699" width="3.8" height="3.8" fill="#56ff00"/>
<path d="M698.2 702 L670.5 720 M670.5 720 L664.4 710.6 M674.6 717.3 L668.5 707.9 M678.7 714.6 L672.6 705.2 M682.9 712 L676.8 702.6 M687 709.3 L683.6 704.1" stroke="#34ff0f" stroke-width="1.85" fill="none"/>
<rect x="696.3" y="700.1" width="3.8" height="3.8" fill="#34ff0f"/>
<path d="M698.2 703 L671 721.7 M671 721.7 L664.7 712.5 M675 718.9 L668.7 709.7 M679.1 716.2 L672.7 706.9 M683.1 713.4 L676.8 704.2" stroke="#11ff2d" stroke-width="1.85" fill="none"/>
<rect x="696.3" y="701.1" width="3.8" height="3.8" fill="#11ff2d"/>
<path d="M698.2 703.9 L671.5 723.3 M671.5 723.3 L664.9 714.2 M675.4 720.4 L668.9 711.4 M679.4 717.6 L672.8 708.5 M683.4 714.7 L676.8 705.6" stroke="#00ff4b" stroke-width="1.85" fill="none"/>
<rect x="696.3" y="702" width="3.8" height="3.8" fill="#00ff4b"/>
<path d="M698.2 704.8 L672 724.9 M672 724.9 L665.2 716 M675.9 721.9 L669.1 713 M679.8 718.9 L673 710 M683.7 715.9 L679.9 711" stroke="#00ff67" stroke-width="1.85" fill="none"/>
<rect x="696.3" y="702.9" width="3.8" height="3.8" fill="#00ff67"/>
<path d="M698.2 705.6 L672.5 726.3 M672.5 726.3 L665.5 717.6 M676.3 723.2 L669.3 714.5 M680.1 720.2 L673.1 711.4 M683.9 717.1 L680.1 712.3" stroke="#00ff80" stroke-width="1.85" fill="none"/>
<rect x="696.3" y="703.7" width="3.8" height="3.8" fill="#00ff80"/>
<path d="M698.2 706.4 L673 727.6 M673 727.6 L665.7 719.1 M676.7 724.5 L669.5 715.9 M680.5 721.3 L673.2 712.7" stroke="#00fe97" stroke-width="1.85" fill="none"/>
<rect x="696.3" y="704.5" width="3.8" height="3.8" fill="#00fe97"/>
<path d="M698.2 707 L673.4 728.8 M673.4 728.8 L666 720.4 M677.1 725.6 L669.7 717.2 M680.8 722.4 L673.4 714" stroke="#00fdab" stroke-width="1.85" fill="none"/>
<rect x="696.3" y="705.1" width="3.8" height="3.8" fill="#00fdab"/>
<path d="M698.2 707.7 L673.8 729.9 M673.8 729.9 L666.3 721.7 M677.5 726.6 L669.9 718.4 M681.1 723.3 L676.9 718.8" stroke="#00fbbe" stroke-width="1.85" fill="none"/>
<rect x="696.3" y="705.8" width="3.8" height="3.8" fill="#00fbbe"/>
<path d="M698.2 708.3 L674.2 730.9 M674.2 730.9 L666.5 722.7 M677.7 727.5 L670.1 719.4 M681.3 724.2 L677.1 719.7" stroke="#00f8ce" stroke-width="1.85" fill="none"/>
<rect x="696.3" y="706.4" width="3.8" height="3.8" fill="#00f8ce"/>
<path d="M698.2 708.9 L674.4 731.8 M674.4 731.8 L666.7 723.7 M677.9 728.4 L670.2 720.3 M681.5 725 L677.2 720.5" stroke="#00f5df" stroke-width="1.85" fill="none"/>
<rect x="696.3" y="707" width="3.8" height="3.8" fill="#00f5df"/>
<path d="M698.2 709.5 L674.7 732.6 M674.7 732.6 L666.8 724.6 M678.2 729.2 L670.3 721.2" stroke="#00f2f0" stroke-width="1.85" fill="none"/>
<rect x="696.3" y="707.6" width="3.8" height="3.8" fill="#00f2f0"/>
<path d="M698.2 710.1 L674.9 733.4 M674.9 733.4 L666.9 725.5 M678.3 730 L670.4 722" stroke="#00ebf5" stroke-width="1.85" fill="none"/>
<rect x="696.3" y="708.2" width="3.8" height="3.8" fill="#00ebf5"/>
<path d="M698.2 710.7 L674.9 734 M674.9 734 L666.9 726.1 M678.3 730.6 L673.9 726.2" stroke="#00e4fb" stroke-width="1.85" fill="none"/>
<rect x="696.3" y="708.8" width="3.8" height="3.8" fill="#00e4fb"/>
<path d="M698.2 711.3 L674.9 734.6 M674.9 734.6 L666.9 726.7 M678.3 731.2 L673.9 726.8" stroke="#03daff" stroke-width="1.85" fill="none"/>
<rect x="696.3" y="709.4" width="3.8" height="3.8" fill="#03daff"/>
<path d="M698.2 711.9 L674.9 735.2 M674.9 735.2 L666.9 727.3 M678.3 731.8 L673.9 727.4" stroke="#15c2ff" stroke-width="1.85" fill="none"/>
<rect x="696.3" y="710" width="3.8" height="3.8" fill="#15c2ff"/>
<path d="M698.2 712.5 L674.9 735.8 M674.9 735.8 L666.9 727.9" stroke="#28aaff" stroke-width="1.85" fill="none"/>
<rect x="696.3" y="710.6" width="3.8" height="3.8" fill="#28aaff"/>
</g>
<g>
<ellipse cx="837.9" cy="135.1" rx="31" ry="30.1" fill="none" stroke="#000" stroke-width="1.1"/>
<ellipse cx="837.9" cy="135.1" rx="62" ry="60.2" fill="none" stroke="#000" stroke-width="1.1"/>
<ellipse cx="837.9" cy="135.1" rx="93" ry="90.4" fill="none" stroke="#000" stroke-width="1.1"/>
<path d="M744.8 135.1 H931.2 M837.9 45.1 V225.6 M827.6 132.6 V137.6 M835.1 125.1 H840.7 M848.2 132.6 V137.6 M835.1 145.1 H840.7 M817.2 132.6 V137.6 M835.1 115 H840.7 M858.6 132.6 V137.6 M835.1 155.2 H840.7 M806.9 132.6 V137.6 M835.1 105 H840.7 M868.9 132.6 V137.6 M835.1 165.2 H840.7 M796.6 132.6 V137.6 M835.1 94.9 H840.7 M879.2 132.6 V137.6 M835.1 175.3 H840.7 M786.2 132.6 V137.6 M835.1 84.9 H840.7 M889.5 132.6 V137.6 M835.1 185.3 H840.7 M775.9 132.6 V137.6 M835.1 74.9 H840.7 M899.9 132.6 V137.6 M835.1 195.3 H840.7 M765.6 132.6 V137.6 M835.1 64.8 H840.7 M910.2 132.6 V137.6 M835.1 205.4 H840.7 M755.3 132.6 V137.6 M835.1 54.8 H840.7 M920.5 132.6 V137.6 M835.1 215.4 H840.7" stroke="#000" stroke-width="1.1" fill="none"/>
<rect x="744.8" y="45.1" width="186.4" height="180.5" fill="none" stroke="#000" stroke-width="2"/>
<g font-family="'Liberation Sans', sans-serif" font-size="13.4" fill="#000">
<text x="749.5" y="59" font-size="12.6" textLength="38.5" lengthAdjust="spacing">knots</text>
<text text-anchor="middle" textLength="17" lengthAdjust="spacing" transform="translate(816.4 156) rotate(-45)" x="0" y="4.7">15</text>
<text text-anchor="middle" textLength="17" lengthAdjust="spacing" transform="translate(794.1 178) rotate(-45)" x="0" y="4.7">30</text>
<text text-anchor="middle" textLength="17" lengthAdjust="spacing" transform="translate(772.8 198.6) rotate(-45)" x="0" y="4.7">45</text>
</g>
<path d="M837.9 135.1 L918.5 146.1" stroke="#fa3c3c" stroke-width="1.2" fill="none"/>
<path d="M917.4 142 L925.4 147 L916.2 149.9 Z" fill="#fa3c3c"/>
<path d="M853.7 117.9 L859.5 112.7 L866 107 L872.5 101.6 L878.3 97.6 L884.3 94.1 L890 91.2 L896 88.6 L901.8 86.5 L907.7 84.7 L913 83.5 L918.1 82.8 L924.6 82.7 L929 83 L931.8 83.8 L934.6 85.4 L935.8 87.4 L935.8 89.5 L934.2 91 L931.1 91.4 L924.6 96.4 L915.5 101.6 L907 105.6 L910.9 110.1 L916.8 114 L920.7 115.3 L924.9 116" stroke="#00dc00" stroke-width="2.1" fill="none" stroke-linejoin="round" stroke-linecap="round"/>
<path d="M852.2 116.5 h3.4 v3.4 h-3.4Z M923.2 114.3 h3.4 v3.4 h-3.4Z" fill="#00dc00"/>
</g>
<g>
<rect x="768.1" y="271.3" width="158.2" height="401.4" fill="none" stroke="#3c3c3c" stroke-width="1.3"/>
<path d="M768.1 329.2 H926.3 M768.1 456.5 H926.3 M768.1 582.4 H926.3" stroke="#333" stroke-width="1.3" fill="none"/>
<g font-family="'Liberation Sans', sans-serif" fill="#000">
<text transform="translate(773.4 288.75) scale(1.12 1)" font-size="12.2">K</text>
<text transform="translate(871.9 288.75) scale(1.12 1)" font-size="12.2">6</text>
<text transform="translate(773.4 307.3) scale(0.91 1)" font-size="12.2" textLength="15.37" lengthAdjust="spacing">TT</text>
<text transform="translate(871.9 307.3) scale(1.12 1)" font-size="12.2" textLength="14.38" lengthAdjust="spacing">32</text>
<text transform="translate(773.4 321.1) scale(0.96 1)" font-size="12.2" textLength="20.26" lengthAdjust="spacing">PW</text>
<text transform="translate(803.1 321.1) scale(1.12 1)" font-size="12.2" textLength="29.64" lengthAdjust="spacing">(cm)</text>
<text transform="translate(871.9 321.1) scale(1.12 1)" font-size="12.2" textLength="25.63" lengthAdjust="spacing">1.01</text>
<text transform="translate(773.4 370) scale(1.12 1)" font-size="12.2" textLength="34.55" lengthAdjust="spacing">Press</text>
<text transform="translate(822.1 370) scale(1.12 1)" font-size="12.2" textLength="30" lengthAdjust="spacing">(mb)</text>
<text transform="translate(871.9 370) scale(1.12 1)" font-size="12.2" textLength="42.23" lengthAdjust="spacing">1012.1</text>
<text transform="translate(773.4 383.8) scale(1.12 1)" font-size="12.2" textLength="32.23" lengthAdjust="spacing">Temp</text>
<text transform="translate(821 383.8) scale(1.12 1)" font-size="12.2" textLength="24.11" lengthAdjust="spacing">(°C)</text>
<text transform="translate(871.9 383.8) scale(1.12 1)" font-size="12.2" textLength="28.04" lengthAdjust="spacing">−1.1</text>
<text transform="translate(773.4 397.7) scale(1.11 1)" font-size="12.2" textLength="32.16" lengthAdjust="spacing">Dewp</text>
<text transform="translate(819.3 397.7) scale(1.12 1)" font-size="12.2" textLength="24.46" lengthAdjust="spacing">(°C)</text>
<text transform="translate(871.9 397.7) scale(1.12 1)" font-size="12.2" textLength="29.55" lengthAdjust="spacing">−7.7</text>
<text transform="translate(773.4 411.2) scale(1.12 1)" font-size="12.2" textLength="10.89" lengthAdjust="spacing"><tspan font-style="italic" font-weight="bold">θ</tspan><tspan font-size="7" dy="2" font-weight="bold">E</tspan></text>
<text transform="translate(794.6 411.2) scale(1.12 1)" font-size="12.2" textLength="18.48" lengthAdjust="spacing">(K)</text>
<text transform="translate(871.9 411.2) scale(1.12 1)" font-size="12.2" textLength="35.27" lengthAdjust="spacing">276.6</text>
<text transform="translate(773 424.5) scale(1.04 1)" font-size="12.2" textLength="10.49" lengthAdjust="spacing">LI</text>
<text transform="translate(794.1 424.5) scale(1.12 1)" font-size="12.2" textLength="24.02" lengthAdjust="spacing">(°C)</text>
<text transform="translate(871.9 424.5) scale(1.12 1)" font-size="12.2" textLength="27.23" lengthAdjust="spacing">30.8</text>
<text transform="translate(773.4 438.3) scale(1.04 1)" font-size="12.2" textLength="34.25" lengthAdjust="spacing">CAPE</text>
<text transform="translate(818.9 438.3) scale(1.12 1)" font-size="12.2" textLength="40.09" lengthAdjust="spacing">(Jkg<tspan font-size="7.5" dy="-4.2">−1</tspan><tspan dy="4.2">)</tspan></text>
<text transform="translate(871.9 438.3) scale(1.12 1)" font-size="12.2">0</text>
<text transform="translate(773.4 452) scale(1.01 1)" font-size="12.2" textLength="21.66" lengthAdjust="spacing">CIN</text>
<text transform="translate(805.8 452) scale(1.12 1)" font-size="12.2" textLength="39.73" lengthAdjust="spacing">(Jkg<tspan font-size="7.5" dy="-4.2">−1</tspan><tspan dy="4.2">)</tspan></text>
<text transform="translate(871.9 452) scale(1.12 1)" font-size="12.2">0</text>
<text transform="translate(773.4 496.5) scale(1.12 1)" font-size="12.2" textLength="34.55" lengthAdjust="spacing">Press</text>
<text transform="translate(822.1 496.5) scale(1.12 1)" font-size="12.2" textLength="30" lengthAdjust="spacing">(mb)</text>
<text transform="translate(871.9 496.5) scale(1.12 1)" font-size="12.2" textLength="35.27" lengthAdjust="spacing">784.4</text>
<text transform="translate(773.4 510.3) scale(1.12 1)" font-size="12.2" textLength="32.23" lengthAdjust="spacing">Temp</text>
<text transform="translate(821 510.3) scale(1.12 1)" font-size="12.2" textLength="24.11" lengthAdjust="spacing">(°C)</text>
<text transform="translate(871.9 510.3) scale(1.12 1)" font-size="12.2" textLength="28.04" lengthAdjust="spacing">−1.1</text>
<text transform="translate(773.4 524.1) scale(1.11 1)" font-size="12.2" textLength="32.16" lengthAdjust="spacing">Dewp</text>
<text transform="translate(819.3 524.1) scale(1.12 1)" font-size="12.2" textLength="24.46" lengthAdjust="spacing">(°C)</text>
<text transform="translate(871.9 524.1) scale(1.12 1)" font-size="12.2" textLength="29.55" lengthAdjust="spacing">−7.7</text>
<text transform="translate(773.4 538) scale(1.12 1)" font-size="12.2" textLength="10.89" lengthAdjust="spacing"><tspan font-style="italic" font-weight="bold">θ</tspan><tspan font-size="7" dy="2" font-weight="bold">E</tspan></text>
<text transform="translate(794.6 538) scale(1.12 1)" font-size="12.2" textLength="18.48" lengthAdjust="spacing">(K)</text>
<text transform="translate(871.9 538) scale(1.12 1)" font-size="12.2" textLength="35.27" lengthAdjust="spacing">306.2</text>
<text transform="translate(773 551.4) scale(1.04 1)" font-size="12.2" textLength="10.49" lengthAdjust="spacing">LI</text>
<text transform="translate(794.1 551.4) scale(1.12 1)" font-size="12.2" textLength="24.02" lengthAdjust="spacing">(°C)</text>
<text transform="translate(871.9 551.4) scale(1.12 1)" font-size="12.2" textLength="19.29" lengthAdjust="spacing">9.3</text>
<text transform="translate(773.4 565) scale(1.04 1)" font-size="12.2" textLength="34.25" lengthAdjust="spacing">CAPE</text>
<text transform="translate(818.9 565) scale(1.12 1)" font-size="12.2" textLength="40.09" lengthAdjust="spacing">(Jkg<tspan font-size="7.5" dy="-4.2">−1</tspan><tspan dy="4.2">)</tspan></text>
<text transform="translate(871.9 565) scale(1.12 1)" font-size="12.2">0</text>
<text transform="translate(773.4 578.5) scale(1.01 1)" font-size="12.2" textLength="21.66" lengthAdjust="spacing">CIN</text>
<text transform="translate(805.8 578.5) scale(1.12 1)" font-size="12.2" textLength="39.73" lengthAdjust="spacing">(Jkg<tspan font-size="7.5" dy="-4.2">−1</tspan><tspan dy="4.2">)</tspan></text>
<text transform="translate(871.9 578.5) scale(1.12 1)" font-size="12.2">0</text>
<text transform="translate(773.4 614.3) scale(0.98 1)" font-size="12.2" textLength="17.47" lengthAdjust="spacing">EH</text>
<text transform="translate(800.9 614.3) scale(1.12 1)" font-size="12.2" textLength="40.09" lengthAdjust="spacing">(Jkg<tspan font-size="7.5" dy="-4.2">−1</tspan><tspan dy="4.2">)</tspan></text>
<text transform="translate(871.9 614.3) scale(1.12 1)" font-size="12.2" textLength="22.95" lengthAdjust="spacing">249</text>
<text transform="translate(773.4 628.2) scale(1.04 1)" font-size="12.2" textLength="34.94" lengthAdjust="spacing">SREH</text>
<text transform="translate(820.7 628.2) scale(1.12 1)" font-size="12.2" textLength="39.29" lengthAdjust="spacing">(Jkg<tspan font-size="7.5" dy="-4.2">−1</tspan><tspan dy="4.2">)</tspan></text>
<text transform="translate(871.9 628.2) scale(1.12 1)" font-size="12.2" textLength="22.95" lengthAdjust="spacing">260</text>
<text transform="translate(773.6 650.3) scale(1.12 1)" font-size="12.2" textLength="41.16" lengthAdjust="spacing">StmDir</text>
<text transform="translate(831.1 650.3) scale(1.12 1)" font-size="12.2" textLength="14.82" lengthAdjust="spacing">(°)</text>
<text transform="translate(871.9 650.3) scale(1.12 1)" font-size="12.2" textLength="22.86" lengthAdjust="spacing">277</text>
<text transform="translate(773.6 664.5) scale(1.12 1)" font-size="12.2" textLength="48.39" lengthAdjust="spacing">StmSpd</text>
<text transform="translate(838.2 664.5) scale(1.12 1)" font-size="12.2" textLength="21.52" lengthAdjust="spacing">(kt)</text>
<text transform="translate(871.9 664.5) scale(1.12 1)" font-size="12.2" textLength="14.38" lengthAdjust="spacing">42</text>
<text transform="translate(795.9 348) scale(1.12 1)" font-size="12.2" textLength="43.48" lengthAdjust="spacing">Lowest</text>
<text transform="translate(853.9 348) scale(1.12 1)" font-size="12.2" textLength="27.32" lengthAdjust="spacing">level</text>
<text transform="translate(792.5 474.5) scale(1.12 1)" font-size="12.2" textLength="28.39" lengthAdjust="spacing">Most</text>
<text transform="translate(834.2 474.5) scale(1.12 1)" font-size="12.2" textLength="54.2" lengthAdjust="spacing">Unstable</text>
<text transform="translate(806.3 596.4) scale(1.12 1)" font-size="12.2" textLength="68.21" lengthAdjust="spacing">Hodograph</text>
<text transform="translate(751.8 705.6) scale(1.03 1)" font-size="15.3" textLength="43.82" lengthAdjust="spacing">NCEP</text>
<text transform="translate(812.2 705.6) scale(1.08 1)" font-size="15.3">1</text>
<text transform="translate(822.6 705.6) scale(1.45 1)" font-size="15.3">−</text>
<text transform="translate(837.2 705.6) scale(1.08 1)" font-size="15.3" textLength="17.22" lengthAdjust="spacing">Hr</text>
<text transform="translate(868 705.6) scale(1.08 1)" font-size="15.3" textLength="51.76" lengthAdjust="spacing">PType:</text>
<text transform="translate(816.8 728.5) scale(1.08 1)" font-size="15" textLength="39.35" lengthAdjust="spacing">None</text>
<text transform="translate(806.7 749.8) scale(1.08 1)" font-size="12.7" textLength="19.54" lengthAdjust="spacing">(0"</text>
<text transform="translate(837.6 749.8) scale(1.08 1)" font-size="12.7" textLength="29.07" lengthAdjust="spacing">L.E.)</text>
</g>
<path d="M744.1 711.3 H931.4" stroke="#000" stroke-width="1.5" fill="none"/>
</g>
</svg>
</body></html>
